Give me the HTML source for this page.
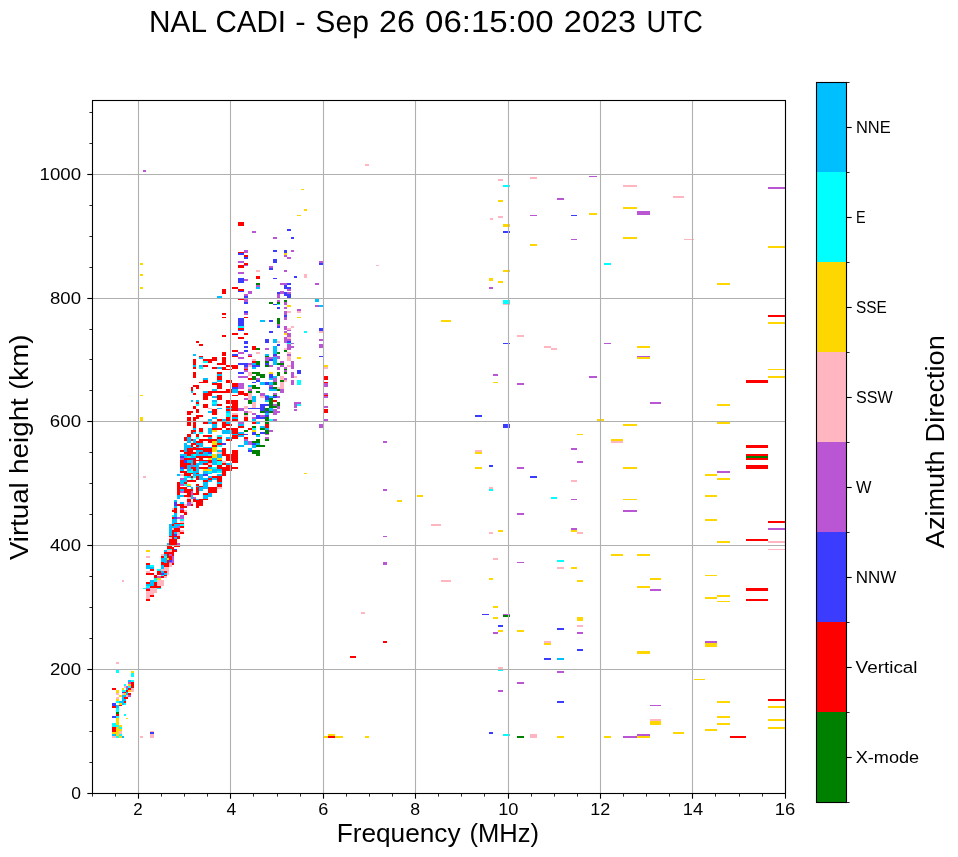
<!DOCTYPE html>
<html><head><meta charset="utf-8"><title>NAL CADI ionogram</title>
<style>html,body{margin:0;padding:0;background:#fff;}body{width:958px;height:857px;overflow:hidden;font-family:"Liberation Sans",sans-serif;}svg{display:block;}text{font-family:"Liberation Sans",sans-serif;fill:#000;}</style></head>
<body>
<svg width="958" height="857" viewBox="0 0 958 857">
<rect x="0" y="0" width="958" height="857" fill="#ffffff"/>
<g id="marks" shape-rendering="crispEdges">
<g fill="#ffb6c1"><rect x="365" y="164" width="4" height="2"/><rect x="498" y="179" width="5" height="2"/></g>
<g fill="#00ffff"><rect x="503" y="185" width="7" height="2"/></g>
<g fill="#ffd700"><rect x="498" y="200" width="5" height="2"/></g>
<g fill="#ffb6c1"><rect x="498" y="216" width="5" height="2"/><rect x="490" y="218" width="3" height="2"/></g>
<g fill="#ffd700"><rect x="503" y="224" width="7" height="3"/></g>
<g fill="#3c3cff"><rect x="503" y="231" width="7" height="2"/></g>
<g fill="#ffb6c1"><rect x="530" y="177" width="7" height="2"/></g>
<g fill="#ba55d3"><rect x="530" y="215" width="7" height="1"/><rect x="557" y="198" width="7" height="2"/></g>
<g fill="#3c3cff"><rect x="571" y="215" width="6" height="1"/></g>
<g fill="#ba55d3"><rect x="571" y="239" width="6" height="1"/><rect x="589" y="176" width="8" height="1"/></g>
<g fill="#ffd700"><rect x="589" y="213" width="8" height="2"/></g>
<g fill="#ffb6c1"><rect x="623" y="185" width="14" height="2"/></g>
<g fill="#ffd700"><rect x="623" y="207" width="14" height="2"/></g>
<g fill="#ba55d3"><rect x="637" y="211" width="13" height="4"/></g>
<g fill="#ffd700"><rect x="623" y="237" width="14" height="2"/></g>
<g fill="#ffb6c1"><rect x="673" y="196" width="11" height="2"/><rect x="684" y="239" width="10" height="1"/></g>
<g fill="#ba55d3"><rect x="768" y="187" width="17" height="2"/></g>
<g fill="#ffb6c1"><rect x="376" y="265" width="3" height="1"/></g>
<g fill="#ffd700"><rect x="441" y="320" width="10" height="2"/><rect x="530" y="244" width="7" height="2"/><rect x="503" y="270" width="7" height="2"/><rect x="489" y="278" width="4" height="3"/><rect x="498" y="281" width="5" height="2"/></g>
<g fill="#ba55d3"><rect x="489" y="287" width="4" height="2"/></g>
<g fill="#00ffff"><rect x="503" y="300" width="7" height="4"/></g>
<g fill="#ffb6c1"><rect x="503" y="304" width="7" height="1"/><rect x="517" y="335" width="7" height="2"/></g>
<g fill="#3c3cff"><rect x="503" y="343" width="7" height="1"/></g>
<g fill="#ffb6c1"><rect x="544" y="346" width="7" height="2"/><rect x="551" y="348" width="6" height="2"/></g>
<g fill="#ba55d3"><rect x="493" y="374" width="5" height="2"/></g>
<g fill="#ffd700"><rect x="493" y="382" width="5" height="1"/></g>
<g fill="#ba55d3"><rect x="517" y="383" width="7" height="2"/><rect x="589" y="376" width="8" height="2"/></g>
<g fill="#00ffff"><rect x="604" y="263" width="7" height="2"/></g>
<g fill="#ba55d3"><rect x="604" y="343" width="7" height="1"/></g>
<g fill="#ffd700"><rect x="768" y="246" width="17" height="2"/><rect x="717" y="283" width="13" height="2"/></g>
<g fill="#ff0000"><rect x="768" y="315" width="17" height="2"/></g>
<g fill="#ffd700"><rect x="768" y="322" width="17" height="2"/><rect x="637" y="346" width="13" height="2"/></g>
<g fill="#ba55d3"><rect x="637" y="356" width="13" height="1"/></g>
<g fill="#ffd700"><rect x="637" y="357" width="13" height="2"/><rect x="768" y="369" width="17" height="1"/><rect x="768" y="376" width="17" height="2"/></g>
<g fill="#ff0000"><rect x="746" y="380" width="22" height="3"/></g>
<g fill="#3c3cff"><rect x="475" y="415" width="7" height="2"/></g>
<g fill="#ba55d3"><rect x="383" y="441" width="4" height="2"/></g>
<g fill="#ffb6c1"><rect x="475" y="450" width="7" height="2"/></g>
<g fill="#ffd700"><rect x="475" y="452" width="7" height="2"/><rect x="475" y="467" width="7" height="2"/></g>
<g fill="#ba55d3"><rect x="383" y="489" width="4" height="2"/></g>
<g fill="#ffd700"><rect x="397" y="500" width="5" height="2"/><rect x="417" y="495" width="6" height="2"/></g>
<g fill="#ffb6c1"><rect x="431" y="524" width="10" height="2"/></g>
<g fill="#3c3cff"><rect x="503" y="424" width="7" height="4"/><rect x="489" y="465" width="4" height="2"/></g>
<g fill="#ffb6c1"><rect x="489" y="487" width="4" height="2"/></g>
<g fill="#00ffff"><rect x="489" y="489" width="4" height="2"/></g>
<g fill="#ba55d3"><rect x="517" y="467" width="7" height="2"/></g>
<g fill="#3c3cff"><rect x="530" y="476" width="7" height="2"/></g>
<g fill="#ba55d3"><rect x="517" y="513" width="7" height="2"/></g>
<g fill="#00ffff"><rect x="551" y="497" width="6" height="2"/></g>
<g fill="#ffd700"><rect x="577" y="434" width="6" height="1"/></g>
<g fill="#ba55d3"><rect x="571" y="448" width="6" height="2"/><rect x="577" y="461" width="6" height="2"/></g>
<g fill="#ffb6c1"><rect x="571" y="480" width="6" height="2"/></g>
<g fill="#ba55d3"><rect x="571" y="499" width="6" height="1"/><rect x="571" y="528" width="6" height="2"/></g>
<g fill="#ffd700"><rect x="597" y="419" width="7" height="2"/><rect x="623" y="424" width="14" height="2"/><rect x="611" y="439" width="12" height="2"/></g>
<g fill="#ffb6c1"><rect x="611" y="441" width="12" height="2"/></g>
<g fill="#ffd700"><rect x="623" y="467" width="14" height="2"/><rect x="623" y="499" width="14" height="1"/></g>
<g fill="#ba55d3"><rect x="623" y="510" width="14" height="2"/><rect x="650" y="402" width="11" height="2"/></g>
<g fill="#ffd700"><rect x="717" y="404" width="13" height="2"/><rect x="717" y="422" width="13" height="2"/></g>
<g fill="#ff0000"><rect x="746" y="445" width="22" height="3"/><rect x="746" y="454" width="22" height="6"/></g>
<g fill="#008000"><rect x="746" y="456" width="22" height="2"/></g>
<g fill="#ff0000"><rect x="746" y="465" width="22" height="4"/></g>
<g fill="#ba55d3"><rect x="717" y="471" width="13" height="2"/></g>
<g fill="#ffd700"><rect x="705" y="474" width="12" height="2"/><rect x="717" y="478" width="13" height="2"/><rect x="705" y="495" width="12" height="2"/><rect x="705" y="519" width="12" height="2"/></g>
<g fill="#ff0000"><rect x="768" y="521" width="17" height="2"/></g>
<g fill="#ba55d3"><rect x="768" y="528" width="17" height="2"/><rect x="383" y="536" width="4" height="1"/><rect x="383" y="562" width="4" height="3"/></g>
<g fill="#ffb6c1"><rect x="441" y="580" width="10" height="2"/><rect x="361" y="612" width="4" height="2"/></g>
<g fill="#ff0000"><rect x="383" y="641" width="4" height="2"/><rect x="350" y="656" width="6" height="2"/></g>
<g fill="#3c3cff"><rect x="482" y="614" width="7" height="1"/></g>
<g fill="#ffb6c1"><rect x="489" y="532" width="4" height="2"/></g>
<g fill="#ffd700"><rect x="498" y="530" width="5" height="2"/><rect x="571" y="530" width="6" height="2"/></g>
<g fill="#ffb6c1"><rect x="577" y="532" width="6" height="2"/><rect x="493" y="558" width="5" height="2"/></g>
<g fill="#ba55d3"><rect x="517" y="562" width="7" height="1"/></g>
<g fill="#00ffff"><rect x="557" y="560" width="7" height="2"/></g>
<g fill="#ffb6c1"><rect x="557" y="567" width="7" height="2"/></g>
<g fill="#ffd700"><rect x="571" y="567" width="6" height="2"/><rect x="489" y="578" width="4" height="2"/><rect x="577" y="580" width="6" height="2"/><rect x="611" y="554" width="12" height="2"/><rect x="493" y="606" width="5" height="2"/></g>
<g fill="#ba55d3"><rect x="503" y="614" width="7" height="1"/></g>
<g fill="#008000"><rect x="503" y="615" width="7" height="2"/></g>
<g fill="#ffd700"><rect x="493" y="617" width="5" height="2"/></g>
<g fill="#3c3cff"><rect x="498" y="625" width="5" height="2"/></g>
<g fill="#ffd700"><rect x="498" y="630" width="5" height="2"/></g>
<g fill="#ba55d3"><rect x="493" y="632" width="5" height="2"/></g>
<g fill="#ffd700"><rect x="517" y="630" width="7" height="2"/><rect x="577" y="617" width="6" height="4"/></g>
<g fill="#ffb6c1"><rect x="577" y="625" width="6" height="2"/></g>
<g fill="#ba55d3"><rect x="577" y="632" width="6" height="2"/></g>
<g fill="#3c3cff"><rect x="557" y="628" width="7" height="2"/></g>
<g fill="#ffb6c1"><rect x="544" y="641" width="7" height="2"/></g>
<g fill="#ffd700"><rect x="544" y="643" width="7" height="2"/></g>
<g fill="#3c3cff"><rect x="577" y="649" width="6" height="2"/><rect x="544" y="658" width="7" height="2"/></g>
<g fill="#00bfff"><rect x="557" y="658" width="7" height="2"/></g>
<g fill="#ffb6c1"><rect x="498" y="667" width="5" height="2"/></g>
<g fill="#00ffff"><rect x="498" y="669" width="5" height="2"/></g>
<g fill="#ffd700"><rect x="717" y="541" width="13" height="2"/></g>
<g fill="#ff0000"><rect x="746" y="539" width="22" height="2"/></g>
<g fill="#ffb6c1"><rect x="768" y="541" width="17" height="2"/><rect x="768" y="549" width="17" height="1"/></g>
<g fill="#ffd700"><rect x="637" y="554" width="13" height="2"/><rect x="650" y="578" width="11" height="2"/><rect x="637" y="586" width="13" height="2"/></g>
<g fill="#ba55d3"><rect x="650" y="589" width="11" height="2"/></g>
<g fill="#ffd700"><rect x="705" y="575" width="12" height="1"/><rect x="705" y="597" width="12" height="2"/><rect x="717" y="595" width="13" height="2"/><rect x="717" y="601" width="13" height="1"/></g>
<g fill="#ff0000"><rect x="746" y="588" width="22" height="3"/><rect x="746" y="599" width="22" height="2"/></g>
<g fill="#ba55d3"><rect x="705" y="641" width="12" height="2"/></g>
<g fill="#ffd700"><rect x="705" y="643" width="12" height="4"/><rect x="637" y="651" width="13" height="3"/><rect x="335" y="736" width="8" height="2"/><rect x="365" y="736" width="4" height="2"/></g>
<g fill="#ba55d3"><rect x="557" y="671" width="7" height="2"/><rect x="517" y="682" width="7" height="2"/><rect x="498" y="690" width="5" height="2"/></g>
<g fill="#3c3cff"><rect x="557" y="701" width="7" height="2"/><rect x="489" y="732" width="4" height="2"/></g>
<g fill="#00ffff"><rect x="503" y="734" width="7" height="2"/></g>
<g fill="#008000"><rect x="517" y="736" width="7" height="2"/></g>
<g fill="#ffb6c1"><rect x="530" y="734" width="7" height="4"/></g>
<g fill="#ffd700"><rect x="557" y="736" width="7" height="2"/><rect x="604" y="736" width="7" height="2"/></g>
<g fill="#ba55d3"><rect x="623" y="736" width="14" height="2"/><rect x="637" y="734" width="13" height="2"/></g>
<g fill="#ffd700"><rect x="637" y="736" width="13" height="2"/><rect x="694" y="679" width="11" height="1"/></g>
<g fill="#ba55d3"><rect x="650" y="705" width="11" height="1"/></g>
<g fill="#ffb6c1"><rect x="650" y="719" width="11" height="2"/></g>
<g fill="#ffd700"><rect x="650" y="721" width="11" height="4"/><rect x="673" y="732" width="11" height="2"/><rect x="717" y="701" width="13" height="2"/><rect x="717" y="716" width="13" height="2"/><rect x="717" y="723" width="13" height="2"/><rect x="705" y="729" width="12" height="2"/></g>
<g fill="#ff0000"><rect x="730" y="736" width="16" height="2"/><rect x="768" y="699" width="17" height="2"/></g>
<g fill="#ffd700"><rect x="768" y="706" width="17" height="2"/><rect x="768" y="719" width="17" height="2"/><rect x="768" y="727" width="17" height="2"/></g>
<g fill="#ba55d3"><rect x="143" y="170" width="3" height="2"/></g>
<g fill="#ff0000"><rect x="238" y="222" width="6" height="4"/></g>
<g fill="#ffd700"><rect x="301" y="189" width="3" height="1"/><rect x="304" y="209" width="3" height="2"/><rect x="297" y="215" width="4" height="1"/></g>
<g fill="#ba55d3"><rect x="252" y="231" width="4" height="2"/></g>
<g fill="#3c3cff"><rect x="287" y="229" width="4" height="2"/></g>
<g fill="#ba55d3"><rect x="273" y="237" width="4" height="2"/></g>
<g fill="#3c3cff"><rect x="291" y="237" width="3" height="2"/></g>
<g fill="#ba55d3"><rect x="244" y="250" width="4" height="3"/></g>
<g fill="#ff0000"><rect x="238" y="252" width="6" height="1"/></g>
<g fill="#3c3cff"><rect x="238" y="253" width="6" height="2"/></g>
<g fill="#ff0000"><rect x="244" y="255" width="4" height="2"/></g>
<g fill="#3c3cff"><rect x="273" y="250" width="4" height="2"/><rect x="284" y="250" width="3" height="3"/></g>
<g fill="#ffd700"><rect x="284" y="253" width="3" height="2"/></g>
<g fill="#ba55d3"><rect x="284" y="255" width="3" height="2"/><rect x="291" y="250" width="3" height="2"/></g>
<g fill="#ff0000"><rect x="232" y="287" width="6" height="2"/><rect x="232" y="333" width="6" height="2"/><rect x="232" y="350" width="6" height="2"/></g>
<g fill="#3c3cff"><rect x="232" y="354" width="6" height="2"/></g>
<g fill="#ff0000"><rect x="232" y="356" width="6" height="1"/></g>
<g fill="#ba55d3"><rect x="238" y="261" width="6" height="2"/></g>
<g fill="#ff0000"><rect x="238" y="265" width="6" height="3"/></g>
<g fill="#ba55d3"><rect x="238" y="272" width="6" height="2"/></g>
<g fill="#3c3cff"><rect x="238" y="278" width="6" height="5"/></g>
<g fill="#ff0000"><rect x="238" y="289" width="6" height="2"/></g>
<g fill="#3c3cff"><rect x="238" y="291" width="6" height="1"/></g>
<g fill="#ff0000"><rect x="238" y="298" width="6" height="2"/></g>
<g fill="#3c3cff"><rect x="238" y="318" width="6" height="8"/></g>
<g fill="#00ffff"><rect x="238" y="326" width="6" height="2"/></g>
<g fill="#ff0000"><rect x="238" y="328" width="6" height="2"/></g>
<g fill="#3c3cff"><rect x="238" y="330" width="6" height="1"/></g>
<g fill="#ff0000"><rect x="238" y="337" width="6" height="2"/></g>
<g fill="#ba55d3"><rect x="238" y="352" width="6" height="2"/></g>
<g fill="#3c3cff"><rect x="244" y="257" width="4" height="2"/></g>
<g fill="#ff0000"><rect x="244" y="263" width="4" height="2"/></g>
<g fill="#ba55d3"><rect x="244" y="265" width="4" height="1"/><rect x="244" y="279" width="4" height="2"/><rect x="244" y="294" width="4" height="2"/></g>
<g fill="#3c3cff"><rect x="244" y="296" width="4" height="2"/></g>
<g fill="#ba55d3"><rect x="244" y="298" width="4" height="4"/></g>
<g fill="#3c3cff"><rect x="244" y="302" width="4" height="2"/><rect x="244" y="311" width="4" height="2"/></g>
<g fill="#ba55d3"><rect x="244" y="313" width="4" height="2"/></g>
<g fill="#ff0000"><rect x="244" y="317" width="4" height="1"/><rect x="244" y="333" width="4" height="2"/></g>
<g fill="#3c3cff"><rect x="244" y="341" width="4" height="3"/><rect x="244" y="346" width="4" height="2"/><rect x="244" y="350" width="4" height="2"/></g>
<g fill="#ba55d3"><rect x="248" y="291" width="4" height="3"/><rect x="248" y="354" width="4" height="2"/></g>
<g fill="#ff0000"><rect x="248" y="356" width="4" height="1"/><rect x="252" y="346" width="4" height="4"/></g>
<g fill="#ffb6c1"><rect x="256" y="270" width="4" height="2"/></g>
<g fill="#ff0000"><rect x="256" y="276" width="4" height="3"/></g>
<g fill="#008000"><rect x="256" y="283" width="4" height="2"/></g>
<g fill="#ba55d3"><rect x="256" y="285" width="4" height="2"/></g>
<g fill="#00bfff"><rect x="256" y="287" width="4" height="2"/></g>
<g fill="#008000"><rect x="256" y="348" width="4" height="2"/></g>
<g fill="#ffb6c1"><rect x="256" y="352" width="4" height="2"/></g>
<g fill="#00bfff"><rect x="260" y="320" width="5" height="2"/></g>
<g fill="#3c3cff"><rect x="265" y="339" width="4" height="4"/></g>
<g fill="#ba55d3"><rect x="265" y="348" width="4" height="2"/></g>
<g fill="#00bfff"><rect x="265" y="354" width="4" height="2"/></g>
<g fill="#008000"><rect x="265" y="356" width="4" height="1"/></g>
<g fill="#ba55d3"><rect x="269" y="266" width="4" height="2"/></g>
<g fill="#3c3cff"><rect x="269" y="268" width="4" height="2"/></g>
<g fill="#008000"><rect x="269" y="302" width="4" height="2"/></g>
<g fill="#3c3cff"><rect x="269" y="320" width="4" height="2"/><rect x="269" y="331" width="4" height="2"/><rect x="273" y="259" width="4" height="4"/><rect x="273" y="278" width="4" height="1"/><rect x="273" y="304" width="4" height="1"/></g>
<g fill="#00bfff"><rect x="273" y="339" width="4" height="4"/><rect x="273" y="346" width="4" height="8"/></g>
<g fill="#3c3cff"><rect x="273" y="354" width="4" height="2"/></g>
<g fill="#ba55d3"><rect x="273" y="356" width="4" height="1"/></g>
<g fill="#3c3cff"><rect x="277" y="292" width="3" height="2"/></g>
<g fill="#ba55d3"><rect x="277" y="294" width="3" height="4"/><rect x="277" y="300" width="3" height="2"/></g>
<g fill="#008000"><rect x="277" y="302" width="3" height="2"/></g>
<g fill="#00ffff"><rect x="277" y="304" width="3" height="1"/></g>
<g fill="#3c3cff"><rect x="277" y="307" width="3" height="2"/></g>
<g fill="#008000"><rect x="277" y="318" width="3" height="6"/></g>
<g fill="#ba55d3"><rect x="277" y="324" width="3" height="2"/></g>
<g fill="#3c3cff"><rect x="277" y="326" width="3" height="2"/></g>
<g fill="#ffb6c1"><rect x="277" y="341" width="3" height="2"/></g>
<g fill="#3c3cff"><rect x="277" y="344" width="3" height="2"/></g>
<g fill="#008000"><rect x="277" y="352" width="3" height="2"/></g>
<g fill="#ba55d3"><rect x="280" y="283" width="4" height="2"/><rect x="280" y="291" width="4" height="3"/><rect x="284" y="270" width="3" height="2"/><rect x="284" y="283" width="3" height="2"/></g>
<g fill="#3c3cff"><rect x="284" y="285" width="3" height="4"/><rect x="284" y="292" width="3" height="4"/></g>
<g fill="#008000"><rect x="284" y="300" width="3" height="2"/></g>
<g fill="#ba55d3"><rect x="284" y="302" width="3" height="3"/><rect x="284" y="307" width="3" height="2"/><rect x="284" y="311" width="3" height="4"/></g>
<g fill="#3c3cff"><rect x="284" y="315" width="3" height="2"/></g>
<g fill="#ba55d3"><rect x="284" y="317" width="3" height="3"/><rect x="284" y="326" width="3" height="4"/><rect x="284" y="331" width="3" height="2"/></g>
<g fill="#ffd700"><rect x="284" y="333" width="3" height="2"/></g>
<g fill="#ba55d3"><rect x="284" y="337" width="3" height="6"/></g>
<g fill="#ffb6c1"><rect x="284" y="348" width="3" height="2"/></g>
<g fill="#008000"><rect x="284" y="350" width="3" height="2"/></g>
<g fill="#ba55d3"><rect x="287" y="257" width="4" height="2"/></g>
<g fill="#3c3cff"><rect x="287" y="283" width="4" height="2"/><rect x="287" y="287" width="4" height="2"/></g>
<g fill="#ba55d3"><rect x="287" y="289" width="4" height="2"/><rect x="287" y="292" width="4" height="2"/></g>
<g fill="#3c3cff"><rect x="287" y="294" width="4" height="4"/></g>
<g fill="#ffd700"><rect x="287" y="305" width="4" height="2"/></g>
<g fill="#ffb6c1"><rect x="287" y="311" width="4" height="2"/><rect x="287" y="328" width="4" height="2"/></g>
<g fill="#ba55d3"><rect x="287" y="330" width="4" height="1"/><rect x="287" y="333" width="4" height="4"/></g>
<g fill="#ffb6c1"><rect x="287" y="337" width="4" height="2"/></g>
<g fill="#ba55d3"><rect x="287" y="339" width="4" height="2"/></g>
<g fill="#3c3cff"><rect x="287" y="341" width="4" height="2"/></g>
<g fill="#00ffff"><rect x="287" y="343" width="4" height="1"/></g>
<g fill="#ba55d3"><rect x="287" y="344" width="4" height="6"/></g>
<g fill="#ffb6c1"><rect x="287" y="352" width="4" height="2"/></g>
<g fill="#ba55d3"><rect x="287" y="354" width="4" height="2"/></g>
<g fill="#ffb6c1"><rect x="291" y="326" width="3" height="2"/></g>
<g fill="#ba55d3"><rect x="291" y="343" width="3" height="1"/><rect x="291" y="346" width="3" height="2"/></g>
<g fill="#3c3cff"><rect x="294" y="276" width="3" height="2"/></g>
<g fill="#ba55d3"><rect x="297" y="309" width="4" height="2"/></g>
<g fill="#ffb6c1"><rect x="297" y="311" width="4" height="2"/></g>
<g fill="#ffd700"><rect x="297" y="317" width="4" height="1"/></g>
<g fill="#ffb6c1"><rect x="304" y="274" width="3" height="4"/></g>
<g fill="#00ffff"><rect x="304" y="331" width="3" height="2"/></g>
<g fill="#ba55d3"><rect x="315" y="283" width="4" height="2"/></g>
<g fill="#00bfff"><rect x="315" y="298" width="4" height="4"/></g>
<g fill="#ba55d3"><rect x="315" y="305" width="4" height="2"/><rect x="319" y="261" width="4" height="2"/></g>
<g fill="#3c3cff"><rect x="319" y="263" width="4" height="2"/></g>
<g fill="#00bfff"><rect x="319" y="305" width="4" height="2"/></g>
<g fill="#3c3cff"><rect x="319" y="328" width="4" height="3"/></g>
<g fill="#ffb6c1"><rect x="319" y="331" width="4" height="2"/></g>
<g fill="#ba55d3"><rect x="319" y="339" width="4" height="2"/><rect x="319" y="344" width="4" height="4"/></g>
<g fill="#3c3cff"><rect x="319" y="356" width="4" height="1"/></g>
<g fill="#ff0000"><rect x="232" y="365" width="6" height="4"/><rect x="232" y="383" width="6" height="4"/></g>
<g fill="#3c3cff"><rect x="232" y="387" width="6" height="2"/></g>
<g fill="#00bfff"><rect x="232" y="389" width="6" height="4"/></g>
<g fill="#ff0000"><rect x="232" y="395" width="6" height="1"/></g>
<g fill="#ffb6c1"><rect x="232" y="413" width="6" height="2"/></g>
<g fill="#ff0000"><rect x="232" y="415" width="6" height="2"/></g>
<g fill="#00bfff"><rect x="232" y="417" width="6" height="2"/></g>
<g fill="#ff0000"><rect x="232" y="419" width="6" height="2"/></g>
<g fill="#ba55d3"><rect x="238" y="357" width="6" height="2"/></g>
<g fill="#3c3cff"><rect x="238" y="363" width="6" height="2"/><rect x="238" y="372" width="6" height="2"/></g>
<g fill="#ba55d3"><rect x="238" y="376" width="6" height="2"/><rect x="238" y="383" width="6" height="6"/></g>
<g fill="#ff0000"><rect x="238" y="391" width="6" height="4"/></g>
<g fill="#ba55d3"><rect x="238" y="408" width="6" height="3"/></g>
<g fill="#3c3cff"><rect x="244" y="363" width="4" height="4"/></g>
<g fill="#ba55d3"><rect x="244" y="367" width="4" height="2"/></g>
<g fill="#ff0000"><rect x="244" y="369" width="4" height="1"/></g>
<g fill="#ba55d3"><rect x="244" y="370" width="4" height="2"/></g>
<g fill="#ff0000"><rect x="244" y="393" width="4" height="3"/></g>
<g fill="#ba55d3"><rect x="244" y="398" width="4" height="2"/></g>
<g fill="#ffb6c1"><rect x="244" y="406" width="4" height="3"/></g>
<g fill="#ba55d3"><rect x="244" y="411" width="4" height="2"/></g>
<g fill="#008000"><rect x="244" y="413" width="4" height="2"/></g>
<g fill="#ffb6c1"><rect x="244" y="415" width="4" height="2"/></g>
<g fill="#ff0000"><rect x="244" y="417" width="4" height="4"/></g>
<g fill="#ba55d3"><rect x="248" y="363" width="4" height="2"/></g>
<g fill="#ffb6c1"><rect x="248" y="365" width="4" height="2"/><rect x="248" y="372" width="4" height="4"/></g>
<g fill="#ff0000"><rect x="248" y="378" width="4" height="2"/></g>
<g fill="#00bfff"><rect x="248" y="385" width="4" height="2"/></g>
<g fill="#ffb6c1"><rect x="248" y="387" width="4" height="2"/></g>
<g fill="#ba55d3"><rect x="248" y="389" width="4" height="2"/></g>
<g fill="#008000"><rect x="248" y="391" width="4" height="2"/></g>
<g fill="#ffb6c1"><rect x="248" y="393" width="4" height="7"/></g>
<g fill="#008000"><rect x="248" y="400" width="4" height="4"/></g>
<g fill="#3c3cff"><rect x="248" y="408" width="4" height="1"/></g>
<g fill="#ffb6c1"><rect x="248" y="411" width="4" height="2"/><rect x="252" y="359" width="4" height="2"/></g>
<g fill="#ff0000"><rect x="252" y="361" width="4" height="2"/></g>
<g fill="#00bfff"><rect x="252" y="363" width="4" height="2"/></g>
<g fill="#3c3cff"><rect x="252" y="365" width="4" height="2"/></g>
<g fill="#00bfff"><rect x="252" y="367" width="4" height="2"/></g>
<g fill="#008000"><rect x="252" y="372" width="4" height="2"/><rect x="252" y="376" width="4" height="4"/></g>
<g fill="#3c3cff"><rect x="252" y="382" width="4" height="1"/></g>
<g fill="#008000"><rect x="252" y="385" width="4" height="4"/></g>
<g fill="#00bfff"><rect x="252" y="396" width="4" height="6"/></g>
<g fill="#ffb6c1"><rect x="252" y="402" width="4" height="6"/></g>
<g fill="#3c3cff"><rect x="252" y="408" width="4" height="1"/></g>
<g fill="#ba55d3"><rect x="252" y="413" width="4" height="2"/><rect x="252" y="417" width="4" height="2"/></g>
<g fill="#00bfff"><rect x="252" y="419" width="4" height="2"/></g>
<g fill="#008000"><rect x="256" y="361" width="4" height="4"/></g>
<g fill="#3c3cff"><rect x="256" y="365" width="4" height="2"/></g>
<g fill="#008000"><rect x="256" y="372" width="4" height="4"/></g>
<g fill="#ba55d3"><rect x="256" y="378" width="4" height="2"/></g>
<g fill="#3c3cff"><rect x="256" y="380" width="4" height="2"/></g>
<g fill="#008000"><rect x="256" y="387" width="4" height="2"/><rect x="256" y="391" width="4" height="2"/></g>
<g fill="#3c3cff"><rect x="256" y="408" width="4" height="1"/><rect x="256" y="415" width="4" height="4"/></g>
<g fill="#008000"><rect x="260" y="374" width="5" height="4"/></g>
<g fill="#00bfff"><rect x="260" y="382" width="5" height="3"/></g>
<g fill="#ba55d3"><rect x="260" y="393" width="5" height="3"/></g>
<g fill="#ffb6c1"><rect x="260" y="396" width="5" height="2"/></g>
<g fill="#3c3cff"><rect x="260" y="404" width="5" height="7"/></g>
<g fill="#008000"><rect x="260" y="411" width="5" height="2"/></g>
<g fill="#ba55d3"><rect x="260" y="415" width="5" height="2"/></g>
<g fill="#3c3cff"><rect x="260" y="417" width="5" height="2"/></g>
<g fill="#ba55d3"><rect x="265" y="357" width="4" height="4"/></g>
<g fill="#008000"><rect x="265" y="361" width="4" height="2"/></g>
<g fill="#3c3cff"><rect x="265" y="363" width="4" height="2"/></g>
<g fill="#008000"><rect x="265" y="365" width="4" height="2"/></g>
<g fill="#3c3cff"><rect x="265" y="382" width="4" height="3"/></g>
<g fill="#00bfff"><rect x="265" y="395" width="4" height="1"/></g>
<g fill="#3c3cff"><rect x="265" y="396" width="4" height="4"/></g>
<g fill="#00bfff"><rect x="265" y="400" width="4" height="2"/></g>
<g fill="#3c3cff"><rect x="265" y="404" width="4" height="2"/></g>
<g fill="#008000"><rect x="265" y="408" width="4" height="3"/></g>
<g fill="#3c3cff"><rect x="265" y="411" width="4" height="2"/></g>
<g fill="#00bfff"><rect x="265" y="413" width="4" height="2"/></g>
<g fill="#3c3cff"><rect x="265" y="415" width="4" height="2"/></g>
<g fill="#008000"><rect x="265" y="417" width="4" height="4"/></g>
<g fill="#ba55d3"><rect x="269" y="357" width="4" height="2"/></g>
<g fill="#3c3cff"><rect x="269" y="359" width="4" height="2"/></g>
<g fill="#ba55d3"><rect x="269" y="365" width="4" height="2"/></g>
<g fill="#ffd700"><rect x="269" y="372" width="4" height="2"/></g>
<g fill="#3c3cff"><rect x="269" y="374" width="4" height="4"/></g>
<g fill="#00bfff"><rect x="269" y="378" width="4" height="2"/><rect x="269" y="382" width="4" height="3"/></g>
<g fill="#ba55d3"><rect x="269" y="385" width="4" height="2"/></g>
<g fill="#3c3cff"><rect x="269" y="387" width="4" height="2"/></g>
<g fill="#00bfff"><rect x="269" y="389" width="4" height="2"/><rect x="269" y="396" width="4" height="2"/></g>
<g fill="#008000"><rect x="269" y="398" width="4" height="10"/></g>
<g fill="#00bfff"><rect x="269" y="408" width="4" height="3"/></g>
<g fill="#008000"><rect x="269" y="411" width="4" height="2"/></g>
<g fill="#00ffff"><rect x="269" y="419" width="4" height="2"/></g>
<g fill="#00bfff"><rect x="273" y="350" width="4" height="4"/><rect x="273" y="357" width="4" height="8"/><rect x="273" y="376" width="4" height="2"/></g>
<g fill="#ba55d3"><rect x="273" y="378" width="4" height="4"/></g>
<g fill="#008000"><rect x="273" y="382" width="4" height="3"/><rect x="273" y="387" width="4" height="2"/></g>
<g fill="#00bfff"><rect x="273" y="389" width="4" height="2"/></g>
<g fill="#ba55d3"><rect x="273" y="393" width="4" height="2"/></g>
<g fill="#008000"><rect x="273" y="395" width="4" height="1"/></g>
<g fill="#3c3cff"><rect x="273" y="396" width="4" height="2"/></g>
<g fill="#ff0000"><rect x="273" y="400" width="4" height="2"/></g>
<g fill="#ba55d3"><rect x="273" y="404" width="4" height="2"/></g>
<g fill="#008000"><rect x="273" y="406" width="4" height="2"/></g>
<g fill="#ba55d3"><rect x="273" y="409" width="4" height="6"/><rect x="273" y="419" width="4" height="2"/><rect x="277" y="356" width="3" height="3"/></g>
<g fill="#008000"><rect x="277" y="363" width="3" height="2"/></g>
<g fill="#ba55d3"><rect x="277" y="367" width="3" height="3"/></g>
<g fill="#008000"><rect x="277" y="372" width="3" height="4"/></g>
<g fill="#ffb6c1"><rect x="277" y="387" width="3" height="2"/></g>
<g fill="#008000"><rect x="277" y="389" width="3" height="2"/></g>
<g fill="#ba55d3"><rect x="277" y="396" width="3" height="2"/></g>
<g fill="#008000"><rect x="277" y="402" width="3" height="4"/></g>
<g fill="#ba55d3"><rect x="277" y="406" width="3" height="3"/><rect x="277" y="411" width="3" height="2"/><rect x="280" y="361" width="4" height="2"/></g>
<g fill="#008000"><rect x="280" y="363" width="4" height="2"/></g>
<g fill="#ba55d3"><rect x="280" y="365" width="4" height="2"/></g>
<g fill="#ffb6c1"><rect x="280" y="376" width="4" height="4"/></g>
<g fill="#008000"><rect x="280" y="380" width="4" height="2"/></g>
<g fill="#ffb6c1"><rect x="280" y="382" width="4" height="7"/></g>
<g fill="#ba55d3"><rect x="280" y="389" width="4" height="4"/><rect x="284" y="367" width="3" height="2"/></g>
<g fill="#008000"><rect x="284" y="369" width="3" height="1"/></g>
<g fill="#ba55d3"><rect x="284" y="370" width="3" height="2"/></g>
<g fill="#008000"><rect x="284" y="372" width="3" height="2"/></g>
<g fill="#ba55d3"><rect x="284" y="378" width="3" height="2"/></g>
<g fill="#ffb6c1"><rect x="284" y="380" width="3" height="2"/><rect x="287" y="356" width="4" height="5"/><rect x="287" y="365" width="4" height="2"/></g>
<g fill="#ba55d3"><rect x="291" y="361" width="3" height="8"/><rect x="291" y="372" width="3" height="6"/><rect x="291" y="380" width="3" height="5"/></g>
<g fill="#ffb6c1"><rect x="294" y="376" width="3" height="2"/></g>
<g fill="#ba55d3"><rect x="294" y="402" width="3" height="6"/><rect x="294" y="409" width="3" height="2"/></g>
<g fill="#ffd700"><rect x="297" y="357" width="4" height="2"/></g>
<g fill="#3c3cff"><rect x="297" y="370" width="4" height="4"/></g>
<g fill="#00ffff"><rect x="297" y="380" width="4" height="5"/></g>
<g fill="#ba55d3"><rect x="297" y="402" width="4" height="2"/></g>
<g fill="#00ffff"><rect x="297" y="404" width="4" height="2"/></g>
<g fill="#ff0000"><rect x="232" y="428" width="6" height="6"/></g>
<g fill="#00bfff"><rect x="232" y="434" width="6" height="1"/></g>
<g fill="#ff0000"><rect x="232" y="435" width="6" height="2"/></g>
<g fill="#ba55d3"><rect x="238" y="422" width="6" height="2"/></g>
<g fill="#00bfff"><rect x="238" y="424" width="6" height="2"/></g>
<g fill="#ff0000"><rect x="238" y="426" width="6" height="2"/></g>
<g fill="#00bfff"><rect x="238" y="432" width="6" height="2"/></g>
<g fill="#ff0000"><rect x="238" y="434" width="6" height="1"/></g>
<g fill="#00bfff"><rect x="238" y="435" width="6" height="2"/><rect x="238" y="445" width="6" height="2"/></g>
<g fill="#008000"><rect x="244" y="430" width="4" height="2"/></g>
<g fill="#3c3cff"><rect x="244" y="434" width="4" height="1"/></g>
<g fill="#ff0000"><rect x="244" y="437" width="4" height="2"/></g>
<g fill="#ba55d3"><rect x="244" y="439" width="4" height="2"/></g>
<g fill="#00bfff"><rect x="244" y="441" width="4" height="4"/></g>
<g fill="#ff0000"><rect x="248" y="428" width="4" height="2"/></g>
<g fill="#ba55d3"><rect x="248" y="441" width="4" height="4"/></g>
<g fill="#00bfff"><rect x="248" y="448" width="4" height="2"/></g>
<g fill="#3c3cff"><rect x="248" y="450" width="4" height="2"/></g>
<g fill="#ff0000"><rect x="252" y="422" width="4" height="2"/></g>
<g fill="#008000"><rect x="252" y="426" width="4" height="2"/></g>
<g fill="#00ffff"><rect x="252" y="428" width="4" height="2"/></g>
<g fill="#ffd700"><rect x="252" y="430" width="4" height="2"/></g>
<g fill="#3c3cff"><rect x="252" y="432" width="4" height="3"/></g>
<g fill="#008000"><rect x="252" y="441" width="4" height="2"/></g>
<g fill="#3c3cff"><rect x="252" y="443" width="4" height="2"/></g>
<g fill="#00bfff"><rect x="252" y="445" width="4" height="3"/></g>
<g fill="#008000"><rect x="252" y="450" width="4" height="4"/></g>
<g fill="#00bfff"><rect x="256" y="422" width="4" height="2"/></g>
<g fill="#008000"><rect x="256" y="434" width="4" height="1"/></g>
<g fill="#00bfff"><rect x="256" y="435" width="4" height="2"/></g>
<g fill="#008000"><rect x="256" y="439" width="4" height="4"/></g>
<g fill="#00bfff"><rect x="256" y="443" width="4" height="2"/></g>
<g fill="#008000"><rect x="256" y="445" width="4" height="2"/><rect x="256" y="450" width="4" height="6"/></g>
<g fill="#00bfff"><rect x="260" y="426" width="5" height="2"/></g>
<g fill="#008000"><rect x="260" y="428" width="5" height="2"/></g>
<g fill="#3c3cff"><rect x="260" y="432" width="5" height="2"/></g>
<g fill="#008000"><rect x="260" y="445" width="5" height="2"/><rect x="265" y="422" width="4" height="2"/></g>
<g fill="#ff0000"><rect x="265" y="424" width="4" height="4"/></g>
<g fill="#00bfff"><rect x="265" y="428" width="4" height="2"/></g>
<g fill="#008000"><rect x="265" y="430" width="4" height="4"/></g>
<g fill="#ba55d3"><rect x="265" y="434" width="4" height="1"/><rect x="265" y="437" width="4" height="2"/></g>
<g fill="#008000"><rect x="265" y="439" width="4" height="2"/></g>
<g fill="#ba55d3"><rect x="269" y="430" width="4" height="2"/></g>
<g fill="#ffd700"><rect x="304" y="473" width="3" height="1"/></g>
<g fill="#ff0000"><rect x="191" y="387" width="2" height="4"/></g>
<g fill="#00bfff"><rect x="191" y="391" width="2" height="2"/><rect x="191" y="400" width="2" height="2"/><rect x="193" y="354" width="3" height="2"/></g>
<g fill="#ff0000"><rect x="193" y="359" width="3" height="6"/></g>
<g fill="#00bfff"><rect x="193" y="365" width="3" height="2"/></g>
<g fill="#ff0000"><rect x="193" y="367" width="3" height="2"/><rect x="193" y="372" width="3" height="6"/><rect x="193" y="385" width="3" height="2"/><rect x="193" y="393" width="3" height="2"/><rect x="196" y="341" width="3" height="2"/><rect x="196" y="385" width="3" height="4"/></g>
<g fill="#00bfff"><rect x="196" y="400" width="3" height="2"/></g>
<g fill="#ff0000"><rect x="199" y="344" width="4" height="2"/><rect x="199" y="356" width="4" height="1"/></g>
<g fill="#00bfff"><rect x="199" y="357" width="4" height="2"/><rect x="199" y="365" width="4" height="2"/></g>
<g fill="#00ffff"><rect x="199" y="367" width="4" height="2"/></g>
<g fill="#ff0000"><rect x="199" y="382" width="4" height="1"/><rect x="203" y="359" width="5" height="2"/></g>
<g fill="#00ffff"><rect x="203" y="361" width="5" height="2"/></g>
<g fill="#ff0000"><rect x="203" y="365" width="5" height="2"/></g>
<g fill="#00bfff"><rect x="203" y="378" width="5" height="2"/></g>
<g fill="#ff0000"><rect x="203" y="380" width="5" height="3"/></g>
<g fill="#00bfff"><rect x="203" y="391" width="5" height="2"/></g>
<g fill="#ff0000"><rect x="203" y="393" width="5" height="7"/><rect x="208" y="359" width="4" height="4"/><rect x="208" y="391" width="4" height="5"/><rect x="212" y="357" width="5" height="4"/><rect x="212" y="367" width="5" height="2"/></g>
<g fill="#00bfff"><rect x="212" y="382" width="5" height="1"/></g>
<g fill="#ff0000"><rect x="212" y="383" width="5" height="2"/></g>
<g fill="#00bfff"><rect x="212" y="389" width="5" height="2"/></g>
<g fill="#ff0000"><rect x="212" y="391" width="5" height="2"/></g>
<g fill="#00bfff"><rect x="212" y="396" width="5" height="2"/><rect x="212" y="400" width="5" height="2"/></g>
<g fill="#ff0000"><rect x="217" y="363" width="5" height="2"/></g>
<g fill="#00bfff"><rect x="217" y="367" width="5" height="2"/></g>
<g fill="#ff0000"><rect x="217" y="372" width="5" height="2"/></g>
<g fill="#00bfff"><rect x="217" y="374" width="5" height="2"/></g>
<g fill="#ff0000"><rect x="217" y="376" width="5" height="4"/></g>
<g fill="#00bfff"><rect x="217" y="380" width="5" height="2"/></g>
<g fill="#ff0000"><rect x="217" y="383" width="5" height="6"/><rect x="217" y="391" width="5" height="2"/><rect x="217" y="395" width="5" height="5"/><rect x="222" y="335" width="4" height="2"/><rect x="222" y="352" width="4" height="4"/><rect x="222" y="357" width="4" height="8"/><rect x="222" y="367" width="4" height="3"/><rect x="222" y="391" width="4" height="2"/><rect x="226" y="365" width="6" height="2"/><rect x="226" y="369" width="6" height="1"/><rect x="226" y="380" width="6" height="3"/><rect x="226" y="389" width="6" height="4"/></g>
<g fill="#ba55d3"><rect x="244" y="376" width="4" height="2"/></g>
<g fill="#ff0000"><rect x="203" y="395" width="5" height="5"/><rect x="196" y="402" width="3" height="2"/></g>
<g fill="#00ffff"><rect x="212" y="402" width="5" height="2"/><rect x="196" y="404" width="3" height="2"/></g>
<g fill="#ff0000"><rect x="203" y="404" width="5" height="4"/></g>
<g fill="#00bfff"><rect x="212" y="404" width="5" height="2"/></g>
<g fill="#ff0000"><rect x="217" y="404" width="5" height="2"/><rect x="193" y="406" width="3" height="3"/></g>
<g fill="#ffb6c1"><rect x="208" y="408" width="4" height="1"/></g>
<g fill="#00bfff"><rect x="217" y="408" width="5" height="1"/></g>
<g fill="#ff0000"><rect x="196" y="409" width="3" height="4"/><rect x="212" y="409" width="5" height="6"/><rect x="187" y="411" width="6" height="2"/></g>
<g fill="#00bfff"><rect x="208" y="411" width="4" height="2"/><rect x="226" y="411" width="4" height="2"/></g>
<g fill="#ff0000"><rect x="187" y="413" width="4" height="2"/></g>
<g fill="#00ffff"><rect x="226" y="413" width="4" height="4"/></g>
<g fill="#ff0000"><rect x="196" y="415" width="7" height="2"/><rect x="187" y="417" width="4" height="4"/><rect x="193" y="417" width="3" height="4"/><rect x="196" y="417" width="3" height="2"/></g>
<g fill="#00bfff"><rect x="212" y="417" width="5" height="2"/></g>
<g fill="#ff0000"><rect x="226" y="417" width="4" height="4"/></g>
<g fill="#00bfff"><rect x="208" y="419" width="4" height="2"/></g>
<g fill="#ff0000"><rect x="217" y="419" width="5" height="2"/></g>
<g fill="#00bfff"><rect x="222" y="419" width="4" height="2"/></g>
<g fill="#ff0000"><rect x="187" y="422" width="4" height="4"/><rect x="193" y="422" width="3" height="6"/><rect x="203" y="422" width="5" height="2"/></g>
<g fill="#00bfff"><rect x="208" y="422" width="4" height="2"/></g>
<g fill="#ff0000"><rect x="212" y="422" width="5" height="2"/></g>
<g fill="#00bfff"><rect x="212" y="424" width="5" height="4"/></g>
<g fill="#ff0000"><rect x="222" y="422" width="4" height="6"/></g>
<g fill="#00bfff"><rect x="226" y="422" width="4" height="2"/></g>
<g fill="#ff0000"><rect x="226" y="424" width="6" height="2"/></g>
<g fill="#00bfff"><rect x="193" y="428" width="3" height="2"/></g>
<g fill="#ff0000"><rect x="199" y="428" width="4" height="4"/></g>
<g fill="#00bfff"><rect x="208" y="428" width="4" height="6"/></g>
<g fill="#ff0000"><rect x="212" y="428" width="10" height="2"/><rect x="226" y="428" width="6" height="2"/><rect x="191" y="430" width="5" height="2"/></g>
<g fill="#ffd700"><rect x="212" y="430" width="5" height="2"/></g>
<g fill="#00bfff"><rect x="222" y="430" width="10" height="4"/></g>
<g fill="#ff0000"><rect x="191" y="432" width="2" height="2"/></g>
<g fill="#00bfff"><rect x="193" y="432" width="3" height="2"/></g>
<g fill="#00ffff"><rect x="199" y="432" width="4" height="2"/></g>
<g fill="#ff0000"><rect x="187" y="434" width="4" height="3"/><rect x="196" y="434" width="3" height="3"/><rect x="203" y="435" width="9" height="2"/></g>
<g fill="#00ffff"><rect x="217" y="435" width="5" height="2"/></g>
<g fill="#ffb6c1"><rect x="164" y="571" width="5" height="4"/></g>
<g fill="#ff0000"><rect x="157" y="571" width="4" height="4"/></g>
<g fill="#00bfff"><rect x="161" y="571" width="3" height="2"/></g>
<g fill="#ff0000"><rect x="164" y="571" width="3" height="2"/></g>
<g fill="#3c3cff"><rect x="161" y="573" width="3" height="2"/></g>
<g fill="#00bfff"><rect x="164" y="573" width="3" height="2"/></g>
<g fill="#00ffff"><rect x="161" y="575" width="3" height="1"/></g>
<g fill="#ff0000"><rect x="164" y="575" width="3" height="1"/><rect x="154" y="575" width="3" height="3"/></g>
<g fill="#ba55d3"><rect x="157" y="576" width="4" height="2"/></g>
<g fill="#ff0000"><rect x="161" y="576" width="3" height="2"/></g>
<g fill="#ffb6c1"><rect x="164" y="576" width="3" height="2"/></g>
<g fill="#00ffff"><rect x="154" y="578" width="3" height="4"/></g>
<g fill="#ffd700"><rect x="157" y="578" width="4" height="2"/></g>
<g fill="#ffb6c1"><rect x="157" y="580" width="7" height="6"/></g>
<g fill="#00bfff"><rect x="150" y="580" width="4" height="6"/></g>
<g fill="#ff0000"><rect x="146" y="582" width="4" height="2"/></g>
<g fill="#00bfff"><rect x="146" y="584" width="4" height="2"/></g>
<g fill="#00ffff"><rect x="146" y="586" width="4" height="2"/></g>
<g fill="#ff0000"><rect x="154" y="582" width="3" height="7"/><rect x="150" y="586" width="11" height="2"/></g>
<g fill="#00ffff"><rect x="143" y="588" width="3" height="1"/></g>
<g fill="#ba55d3"><rect x="146" y="588" width="4" height="1"/></g>
<g fill="#00ffff"><rect x="157" y="588" width="4" height="1"/></g>
<g fill="#ff0000"><rect x="146" y="589" width="4" height="2"/></g>
<g fill="#ffb6c1"><rect x="150" y="588" width="7" height="5"/><rect x="146" y="591" width="8" height="6"/></g>
<g fill="#ff0000"><rect x="150" y="595" width="4" height="2"/></g>
<g fill="#ffd700"><rect x="146" y="550" width="4" height="2"/></g>
<g fill="#ffb6c1"><rect x="146" y="556" width="4" height="2"/></g>
<g fill="#ff0000"><rect x="146" y="563" width="4" height="2"/></g>
<g fill="#00bfff"><rect x="146" y="565" width="4" height="4"/></g>
<g fill="#00ffff"><rect x="150" y="565" width="4" height="2"/></g>
<g fill="#00bfff"><rect x="150" y="567" width="4" height="2"/></g>
<g fill="#ff0000"><rect x="150" y="569" width="4" height="2"/></g>
<g fill="#ffb6c1"><rect x="146" y="571" width="4" height="2"/></g>
<g fill="#ff0000"><rect x="146" y="573" width="8" height="2"/></g>
<g fill="#ffb6c1"><rect x="150" y="589" width="7" height="4"/><rect x="146" y="591" width="8" height="4"/><rect x="146" y="595" width="4" height="4"/></g>
<g fill="#ff0000"><rect x="146" y="599" width="4" height="2"/></g>
<g fill="#ffb6c1"><rect x="116" y="662" width="3" height="2"/></g>
<g fill="#00ffff"><rect x="116" y="669" width="3" height="4"/></g>
<g fill="#ffd700"><rect x="131" y="671" width="3" height="2"/></g>
<g fill="#00ffff"><rect x="131" y="673" width="3" height="4"/></g>
<g fill="#00bfff"><rect x="128" y="680" width="3" height="2"/></g>
<g fill="#00ffff"><rect x="131" y="680" width="3" height="2"/></g>
<g fill="#ba55d3"><rect x="128" y="682" width="3" height="2"/></g>
<g fill="#ff0000"><rect x="131" y="682" width="3" height="6"/></g>
<g fill="#00ffff"><rect x="124" y="684" width="2" height="2"/></g>
<g fill="#ffd700"><rect x="128" y="684" width="3" height="2"/></g>
<g fill="#ffb6c1"><rect x="124" y="686" width="2" height="2"/></g>
<g fill="#ba55d3"><rect x="126" y="686" width="2" height="2"/></g>
<g fill="#00ffff"><rect x="128" y="686" width="3" height="2"/></g>
<g fill="#ff0000"><rect x="112" y="688" width="4" height="2"/></g>
<g fill="#ffd700"><rect x="122" y="688" width="2" height="2"/></g>
<g fill="#00bfff"><rect x="126" y="688" width="2" height="2"/></g>
<g fill="#ff0000"><rect x="128" y="688" width="3" height="2"/></g>
<g fill="#ffb6c1"><rect x="131" y="688" width="3" height="4"/></g>
<g fill="#ffd700"><rect x="116" y="690" width="3" height="3"/></g>
<g fill="#00ffff"><rect x="122" y="690" width="4" height="2"/></g>
<g fill="#ff0000"><rect x="126" y="690" width="2" height="2"/></g>
<g fill="#ffd700"><rect x="128" y="690" width="3" height="2"/></g>
<g fill="#3c3cff"><rect x="122" y="692" width="2" height="1"/></g>
<g fill="#ff0000"><rect x="124" y="692" width="2" height="1"/></g>
<g fill="#00bfff"><rect x="126" y="692" width="2" height="3"/></g>
<g fill="#ff0000"><rect x="128" y="693" width="3" height="2"/></g>
<g fill="#ffb6c1"><rect x="116" y="693" width="3" height="2"/><rect x="122" y="693" width="2" height="2"/></g>
<g fill="#ffd700"><rect x="124" y="693" width="2" height="2"/><rect x="119" y="695" width="3" height="2"/></g>
<g fill="#00bfff"><rect x="122" y="695" width="4" height="2"/></g>
<g fill="#ffb6c1"><rect x="126" y="695" width="2" height="2"/></g>
<g fill="#ba55d3"><rect x="128" y="695" width="3" height="2"/></g>
<g fill="#ffb6c1"><rect x="116" y="697" width="3" height="2"/></g>
<g fill="#00bfff"><rect x="122" y="697" width="2" height="8"/></g>
<g fill="#ff0000"><rect x="124" y="697" width="4" height="2"/></g>
<g fill="#ffd700"><rect x="116" y="699" width="3" height="2"/></g>
<g fill="#00bfff"><rect x="124" y="699" width="2" height="2"/></g>
<g fill="#00ffff"><rect x="116" y="701" width="3" height="2"/></g>
<g fill="#00bfff"><rect x="119" y="701" width="3" height="2"/></g>
<g fill="#ff0000"><rect x="124" y="701" width="2" height="2"/></g>
<g fill="#3c3cff"><rect x="112" y="703" width="4" height="3"/></g>
<g fill="#ffd700"><rect x="119" y="703" width="3" height="2"/></g>
<g fill="#00ffff"><rect x="124" y="703" width="2" height="2"/></g>
<g fill="#ff0000"><rect x="112" y="706" width="4" height="2"/></g>
<g fill="#00bfff"><rect x="116" y="705" width="3" height="3"/></g>
<g fill="#ff0000"><rect x="119" y="705" width="3" height="1"/></g>
<g fill="#00ffff"><rect x="116" y="708" width="3" height="4"/></g>
<g fill="#008000"><rect x="116" y="712" width="3" height="2"/></g>
<g fill="#ff0000"><rect x="116" y="714" width="3" height="2"/></g>
<g fill="#3c3cff"><rect x="112" y="716" width="4" height="2"/></g>
<g fill="#00ffff"><rect x="116" y="716" width="3" height="2"/><rect x="124" y="714" width="2" height="2"/></g>
<g fill="#ffd700"><rect x="126" y="718" width="2" height="1"/><rect x="116" y="718" width="3" height="7"/></g>
<g fill="#00ffff"><rect x="112" y="723" width="4" height="4"/><rect x="116" y="725" width="3" height="2"/></g>
<g fill="#ffd700"><rect x="119" y="725" width="3" height="2"/></g>
<g fill="#ff0000"><rect x="112" y="727" width="4" height="5"/></g>
<g fill="#ffd700"><rect x="116" y="727" width="3" height="9"/></g>
<g fill="#00ffff"><rect x="119" y="727" width="3" height="2"/></g>
<g fill="#ffd700"><rect x="119" y="729" width="3" height="2"/></g>
<g fill="#ffb6c1"><rect x="119" y="731" width="3" height="3"/></g>
<g fill="#ffd700"><rect x="112" y="732" width="4" height="2"/></g>
<g fill="#00bfff"><rect x="112" y="734" width="4" height="2"/></g>
<g fill="#00ffff"><rect x="119" y="734" width="3" height="2"/></g>
<g fill="#ffb6c1"><rect x="112" y="736" width="4" height="2"/></g>
<g fill="#00ffff"><rect x="116" y="736" width="3" height="2"/></g>
<g fill="#ffd700"><rect x="119" y="736" width="3" height="2"/></g>
<g fill="#00bfff"><rect x="122" y="736" width="2" height="2"/></g>
<g fill="#ffb6c1"><rect x="140" y="736" width="3" height="2"/><rect x="150" y="731" width="4" height="1"/></g>
<g fill="#3c3cff"><rect x="150" y="732" width="4" height="2"/></g>
<g fill="#ffb6c1"><rect x="150" y="734" width="4" height="4"/></g>
<g fill="#ff0000"><rect x="222" y="289" width="4" height="5"/></g>
<g fill="#00bfff"><rect x="217" y="296" width="5" height="2"/></g>
<g fill="#ff0000"><rect x="222" y="313" width="4" height="2"/><rect x="222" y="317" width="4" height="1"/></g>
<g fill="#ffd700"><rect x="140" y="263" width="3" height="2"/><rect x="140" y="274" width="3" height="2"/><rect x="140" y="287" width="3" height="2"/><rect x="140" y="395" width="3" height="1"/><rect x="140" y="417" width="3" height="4"/></g>
<g fill="#ffb6c1"><rect x="143" y="476" width="3" height="2"/></g>
<g fill="#ffd700"><rect x="324" y="736" width="4" height="2"/><rect x="328" y="734" width="7" height="2"/></g>
<g fill="#ff0000"><rect x="328" y="736" width="7" height="2"/></g>
<g fill="#ffd700"><rect x="335" y="736" width="5" height="2"/><rect x="324" y="365" width="4" height="2"/></g>
<g fill="#ffb6c1"><rect x="324" y="367" width="4" height="2"/></g>
<g fill="#ff0000"><rect x="324" y="376" width="4" height="4"/><rect x="324" y="382" width="4" height="1"/></g>
<g fill="#ba55d3"><rect x="324" y="383" width="4" height="4"/><rect x="324" y="393" width="4" height="2"/></g>
<g fill="#ff0000"><rect x="324" y="395" width="4" height="1"/></g>
<g fill="#ba55d3"><rect x="324" y="396" width="4" height="2"/><rect x="324" y="406" width="4" height="2"/></g>
<g fill="#ff0000"><rect x="324" y="409" width="4" height="4"/></g>
<g fill="#ba55d3"><rect x="324" y="419" width="4" height="2"/><rect x="319" y="424" width="4" height="4"/></g>
<g fill="#ffb6c1"><rect x="122" y="580" width="2" height="2"/></g>
<g fill="#ff0000"><rect x="184" y="437" width="3" height="2"/></g>
<g fill="#00bfff"><rect x="187" y="437" width="4" height="2"/></g>
<g fill="#00ffff"><rect x="196" y="437" width="3" height="2"/></g>
<g fill="#00bfff"><rect x="208" y="437" width="4" height="2"/></g>
<g fill="#ff0000"><rect x="217" y="437" width="5" height="2"/></g>
<g fill="#00bfff"><rect x="226" y="437" width="6" height="2"/></g>
<g fill="#ff0000"><rect x="232" y="437" width="6" height="2"/><rect x="184" y="439" width="3" height="2"/></g>
<g fill="#00bfff"><rect x="187" y="439" width="4" height="2"/></g>
<g fill="#ff0000"><rect x="191" y="439" width="2" height="2"/></g>
<g fill="#00bfff"><rect x="193" y="439" width="3" height="2"/></g>
<g fill="#ff0000"><rect x="199" y="439" width="4" height="2"/><rect x="203" y="439" width="5" height="2"/><rect x="208" y="439" width="4" height="2"/><rect x="212" y="439" width="5" height="2"/></g>
<g fill="#00bfff"><rect x="217" y="439" width="5" height="2"/></g>
<g fill="#ff0000"><rect x="226" y="439" width="6" height="2"/></g>
<g fill="#00bfff"><rect x="187" y="441" width="4" height="2"/><rect x="193" y="441" width="3" height="2"/></g>
<g fill="#ff0000"><rect x="196" y="441" width="3" height="2"/><rect x="199" y="441" width="4" height="2"/><rect x="208" y="441" width="4" height="2"/></g>
<g fill="#ffd700"><rect x="212" y="441" width="5" height="2"/></g>
<g fill="#00bfff"><rect x="217" y="441" width="5" height="2"/><rect x="184" y="443" width="3" height="2"/></g>
<g fill="#ff0000"><rect x="191" y="443" width="2" height="2"/><rect x="193" y="443" width="3" height="2"/></g>
<g fill="#00bfff"><rect x="196" y="443" width="3" height="2"/><rect x="199" y="443" width="4" height="2"/></g>
<g fill="#ffd700"><rect x="212" y="443" width="5" height="2"/></g>
<g fill="#ff0000"><rect x="217" y="443" width="5" height="2"/></g>
<g fill="#3c3cff"><rect x="222" y="443" width="4" height="2"/></g>
<g fill="#00bfff"><rect x="184" y="445" width="3" height="2"/><rect x="187" y="445" width="4" height="2"/></g>
<g fill="#ff0000"><rect x="191" y="445" width="2" height="2"/><rect x="196" y="445" width="3" height="2"/></g>
<g fill="#00bfff"><rect x="199" y="445" width="4" height="2"/></g>
<g fill="#ff0000"><rect x="212" y="445" width="5" height="2"/></g>
<g fill="#00ffff"><rect x="217" y="445" width="5" height="2"/></g>
<g fill="#00bfff"><rect x="184" y="447" width="3" height="1"/><rect x="187" y="447" width="4" height="1"/><rect x="191" y="447" width="2" height="1"/></g>
<g fill="#ff0000"><rect x="193" y="447" width="3" height="1"/></g>
<g fill="#00bfff"><rect x="196" y="447" width="3" height="1"/></g>
<g fill="#ffb6c1"><rect x="199" y="447" width="4" height="1"/></g>
<g fill="#00bfff"><rect x="203" y="447" width="5" height="1"/><rect x="208" y="447" width="4" height="1"/></g>
<g fill="#ffd700"><rect x="212" y="447" width="5" height="1"/></g>
<g fill="#00bfff"><rect x="184" y="448" width="3" height="2"/></g>
<g fill="#ff0000"><rect x="187" y="448" width="4" height="2"/><rect x="191" y="448" width="2" height="2"/><rect x="193" y="448" width="3" height="2"/><rect x="196" y="448" width="3" height="2"/><rect x="199" y="448" width="4" height="2"/><rect x="203" y="448" width="5" height="2"/><rect x="208" y="448" width="4" height="2"/></g>
<g fill="#ffd700"><rect x="212" y="448" width="5" height="2"/></g>
<g fill="#ff0000"><rect x="222" y="448" width="4" height="2"/><rect x="180" y="450" width="4" height="2"/></g>
<g fill="#00bfff"><rect x="184" y="450" width="3" height="2"/></g>
<g fill="#ff0000"><rect x="187" y="450" width="4" height="2"/><rect x="191" y="450" width="2" height="2"/></g>
<g fill="#00bfff"><rect x="196" y="450" width="3" height="2"/><rect x="199" y="450" width="4" height="2"/></g>
<g fill="#ff0000"><rect x="203" y="450" width="5" height="2"/><rect x="208" y="450" width="4" height="2"/></g>
<g fill="#ffd700"><rect x="212" y="450" width="5" height="2"/></g>
<g fill="#00bfff"><rect x="217" y="450" width="5" height="2"/></g>
<g fill="#ff0000"><rect x="222" y="450" width="4" height="2"/><rect x="232" y="450" width="6" height="2"/><rect x="184" y="452" width="3" height="2"/><rect x="187" y="452" width="4" height="2"/><rect x="191" y="452" width="2" height="2"/><rect x="193" y="452" width="3" height="2"/></g>
<g fill="#00bfff"><rect x="196" y="452" width="3" height="2"/></g>
<g fill="#ff0000"><rect x="199" y="452" width="4" height="2"/></g>
<g fill="#00bfff"><rect x="203" y="452" width="5" height="2"/></g>
<g fill="#3c3cff"><rect x="208" y="452" width="4" height="2"/></g>
<g fill="#ffb6c1"><rect x="217" y="452" width="5" height="2"/></g>
<g fill="#ff0000"><rect x="222" y="452" width="4" height="2"/><rect x="232" y="452" width="6" height="2"/></g>
<g fill="#00bfff"><rect x="180" y="454" width="4" height="2"/><rect x="184" y="454" width="3" height="2"/></g>
<g fill="#ff0000"><rect x="187" y="454" width="4" height="2"/></g>
<g fill="#00bfff"><rect x="191" y="454" width="2" height="2"/></g>
<g fill="#00ffff"><rect x="193" y="454" width="3" height="2"/></g>
<g fill="#00bfff"><rect x="196" y="454" width="3" height="2"/><rect x="199" y="454" width="4" height="2"/><rect x="203" y="454" width="5" height="2"/></g>
<g fill="#00ffff"><rect x="208" y="454" width="4" height="2"/></g>
<g fill="#ffd700"><rect x="212" y="454" width="5" height="2"/></g>
<g fill="#00bfff"><rect x="217" y="454" width="5" height="2"/></g>
<g fill="#ff0000"><rect x="222" y="454" width="4" height="2"/><rect x="226" y="454" width="6" height="2"/><rect x="232" y="454" width="6" height="2"/></g>
<g fill="#3c3cff"><rect x="180" y="456" width="4" height="2"/></g>
<g fill="#00bfff"><rect x="184" y="456" width="3" height="2"/></g>
<g fill="#00ffff"><rect x="187" y="456" width="4" height="2"/></g>
<g fill="#00bfff"><rect x="191" y="456" width="2" height="2"/><rect x="193" y="456" width="3" height="2"/></g>
<g fill="#ff0000"><rect x="196" y="456" width="3" height="2"/><rect x="199" y="456" width="4" height="2"/><rect x="203" y="456" width="5" height="2"/><rect x="208" y="456" width="4" height="2"/></g>
<g fill="#ffd700"><rect x="212" y="456" width="5" height="2"/></g>
<g fill="#00bfff"><rect x="217" y="456" width="5" height="2"/></g>
<g fill="#ff0000"><rect x="226" y="456" width="6" height="2"/><rect x="232" y="456" width="6" height="2"/></g>
<g fill="#ba55d3"><rect x="180" y="458" width="4" height="2"/></g>
<g fill="#ff0000"><rect x="184" y="458" width="3" height="2"/><rect x="187" y="458" width="4" height="2"/></g>
<g fill="#3c3cff"><rect x="191" y="458" width="2" height="2"/></g>
<g fill="#ff0000"><rect x="193" y="458" width="3" height="2"/><rect x="199" y="458" width="4" height="2"/></g>
<g fill="#ffd700"><rect x="208" y="458" width="4" height="2"/></g>
<g fill="#00bfff"><rect x="212" y="458" width="5" height="2"/></g>
<g fill="#ffd700"><rect x="217" y="458" width="5" height="2"/></g>
<g fill="#ff0000"><rect x="226" y="458" width="6" height="2"/><rect x="232" y="458" width="6" height="2"/><rect x="180" y="460" width="4" height="1"/></g>
<g fill="#3c3cff"><rect x="184" y="460" width="3" height="1"/></g>
<g fill="#00bfff"><rect x="187" y="460" width="4" height="1"/><rect x="191" y="460" width="2" height="1"/></g>
<g fill="#ff0000"><rect x="193" y="460" width="3" height="1"/><rect x="196" y="460" width="3" height="1"/><rect x="199" y="460" width="4" height="1"/><rect x="203" y="460" width="5" height="1"/><rect x="208" y="460" width="4" height="1"/></g>
<g fill="#00bfff"><rect x="212" y="460" width="5" height="1"/></g>
<g fill="#ff0000"><rect x="217" y="460" width="5" height="1"/><rect x="226" y="460" width="6" height="1"/><rect x="232" y="460" width="6" height="1"/><rect x="180" y="461" width="4" height="2"/></g>
<g fill="#3c3cff"><rect x="184" y="461" width="3" height="2"/></g>
<g fill="#00bfff"><rect x="187" y="461" width="4" height="2"/><rect x="191" y="461" width="2" height="2"/></g>
<g fill="#ff0000"><rect x="193" y="461" width="3" height="2"/></g>
<g fill="#00bfff"><rect x="199" y="461" width="4" height="2"/><rect x="203" y="461" width="5" height="2"/></g>
<g fill="#ff0000"><rect x="208" y="461" width="4" height="2"/></g>
<g fill="#00bfff"><rect x="212" y="461" width="5" height="2"/></g>
<g fill="#00ffff"><rect x="217" y="461" width="5" height="2"/></g>
<g fill="#ffb6c1"><rect x="222" y="461" width="4" height="2"/></g>
<g fill="#ff0000"><rect x="232" y="461" width="6" height="2"/><rect x="180" y="463" width="4" height="2"/><rect x="184" y="463" width="3" height="2"/><rect x="187" y="463" width="4" height="2"/></g>
<g fill="#00bfff"><rect x="191" y="463" width="2" height="2"/></g>
<g fill="#ff0000"><rect x="193" y="463" width="3" height="2"/></g>
<g fill="#00bfff"><rect x="196" y="463" width="3" height="2"/><rect x="199" y="463" width="4" height="2"/></g>
<g fill="#ff0000"><rect x="203" y="463" width="5" height="2"/></g>
<g fill="#ffb6c1"><rect x="208" y="463" width="4" height="2"/></g>
<g fill="#00bfff"><rect x="212" y="463" width="5" height="2"/></g>
<g fill="#00ffff"><rect x="217" y="463" width="5" height="2"/></g>
<g fill="#ff0000"><rect x="222" y="463" width="4" height="2"/></g>
<g fill="#00bfff"><rect x="226" y="463" width="6" height="2"/></g>
<g fill="#ff0000"><rect x="180" y="465" width="4" height="2"/><rect x="184" y="465" width="3" height="2"/></g>
<g fill="#00bfff"><rect x="187" y="465" width="4" height="2"/></g>
<g fill="#ba55d3"><rect x="191" y="465" width="2" height="2"/></g>
<g fill="#00bfff"><rect x="193" y="465" width="3" height="2"/><rect x="196" y="465" width="3" height="2"/></g>
<g fill="#ff0000"><rect x="208" y="465" width="4" height="2"/><rect x="217" y="465" width="5" height="2"/><rect x="226" y="465" width="6" height="2"/></g>
<g fill="#3c3cff"><rect x="180" y="467" width="4" height="2"/></g>
<g fill="#ff0000"><rect x="184" y="467" width="3" height="2"/></g>
<g fill="#00bfff"><rect x="187" y="467" width="4" height="2"/></g>
<g fill="#ff0000"><rect x="191" y="467" width="2" height="2"/><rect x="193" y="467" width="3" height="2"/></g>
<g fill="#00bfff"><rect x="196" y="467" width="3" height="2"/></g>
<g fill="#ff0000"><rect x="199" y="467" width="4" height="2"/><rect x="203" y="467" width="5" height="2"/></g>
<g fill="#00bfff"><rect x="208" y="467" width="4" height="2"/></g>
<g fill="#00ffff"><rect x="212" y="467" width="5" height="2"/></g>
<g fill="#ff0000"><rect x="217" y="467" width="5" height="2"/><rect x="222" y="467" width="4" height="2"/><rect x="226" y="467" width="6" height="2"/><rect x="232" y="467" width="6" height="2"/></g>
<g fill="#00bfff"><rect x="180" y="469" width="4" height="2"/><rect x="187" y="469" width="4" height="2"/></g>
<g fill="#00ffff"><rect x="191" y="469" width="2" height="2"/></g>
<g fill="#ff0000"><rect x="193" y="469" width="3" height="2"/></g>
<g fill="#00bfff"><rect x="196" y="469" width="3" height="2"/></g>
<g fill="#ffd700"><rect x="203" y="469" width="5" height="2"/><rect x="208" y="469" width="4" height="2"/></g>
<g fill="#00bfff"><rect x="212" y="469" width="5" height="2"/><rect x="217" y="469" width="5" height="2"/></g>
<g fill="#ff0000"><rect x="222" y="469" width="4" height="2"/><rect x="226" y="469" width="6" height="2"/><rect x="180" y="471" width="4" height="2"/><rect x="184" y="471" width="3" height="2"/></g>
<g fill="#00ffff"><rect x="187" y="471" width="4" height="2"/><rect x="191" y="471" width="2" height="2"/></g>
<g fill="#00bfff"><rect x="193" y="471" width="3" height="2"/><rect x="196" y="471" width="3" height="2"/><rect x="203" y="471" width="5" height="2"/></g>
<g fill="#00ffff"><rect x="208" y="471" width="4" height="2"/></g>
<g fill="#00bfff"><rect x="212" y="471" width="5" height="2"/></g>
<g fill="#00ffff"><rect x="217" y="471" width="5" height="2"/></g>
<g fill="#ff0000"><rect x="222" y="471" width="4" height="2"/><rect x="184" y="473" width="3" height="1"/><rect x="187" y="473" width="4" height="1"/><rect x="191" y="473" width="2" height="1"/></g>
<g fill="#00bfff"><rect x="193" y="473" width="3" height="1"/></g>
<g fill="#ff0000"><rect x="196" y="473" width="3" height="1"/></g>
<g fill="#00bfff"><rect x="203" y="473" width="5" height="1"/><rect x="208" y="473" width="4" height="1"/></g>
<g fill="#ff0000"><rect x="222" y="473" width="4" height="1"/></g>
<g fill="#00bfff"><rect x="177" y="474" width="3" height="2"/></g>
<g fill="#ffb6c1"><rect x="180" y="474" width="4" height="2"/></g>
<g fill="#ff0000"><rect x="184" y="474" width="3" height="2"/><rect x="187" y="474" width="4" height="2"/></g>
<g fill="#00bfff"><rect x="193" y="474" width="3" height="2"/><rect x="196" y="474" width="3" height="2"/><rect x="199" y="474" width="4" height="2"/></g>
<g fill="#3c3cff"><rect x="203" y="474" width="5" height="2"/></g>
<g fill="#00bfff"><rect x="217" y="474" width="5" height="2"/></g>
<g fill="#ff0000"><rect x="222" y="474" width="4" height="2"/></g>
<g fill="#00ffff"><rect x="184" y="476" width="3" height="2"/></g>
<g fill="#00bfff"><rect x="187" y="476" width="4" height="2"/></g>
<g fill="#ff0000"><rect x="191" y="476" width="2" height="2"/></g>
<g fill="#00ffff"><rect x="193" y="476" width="3" height="2"/></g>
<g fill="#ff0000"><rect x="196" y="476" width="3" height="2"/></g>
<g fill="#00bfff"><rect x="199" y="476" width="4" height="2"/><rect x="208" y="476" width="4" height="2"/></g>
<g fill="#ff0000"><rect x="212" y="476" width="5" height="2"/><rect x="217" y="476" width="5" height="2"/></g>
<g fill="#ba55d3"><rect x="180" y="478" width="4" height="2"/></g>
<g fill="#00bfff"><rect x="184" y="478" width="3" height="2"/></g>
<g fill="#00ffff"><rect x="191" y="478" width="2" height="2"/></g>
<g fill="#ff0000"><rect x="196" y="478" width="3" height="2"/></g>
<g fill="#00bfff"><rect x="199" y="478" width="4" height="2"/><rect x="203" y="478" width="5" height="2"/></g>
<g fill="#ff0000"><rect x="208" y="478" width="4" height="2"/></g>
<g fill="#00bfff"><rect x="212" y="478" width="5" height="2"/></g>
<g fill="#ff0000"><rect x="217" y="478" width="5" height="2"/></g>
<g fill="#00bfff"><rect x="180" y="480" width="4" height="2"/><rect x="184" y="480" width="3" height="2"/></g>
<g fill="#ff0000"><rect x="187" y="480" width="4" height="2"/><rect x="191" y="480" width="2" height="2"/><rect x="193" y="480" width="3" height="2"/><rect x="203" y="480" width="5" height="2"/></g>
<g fill="#00bfff"><rect x="208" y="480" width="4" height="2"/></g>
<g fill="#ff0000"><rect x="217" y="480" width="5" height="2"/><rect x="177" y="482" width="3" height="2"/></g>
<g fill="#00bfff"><rect x="180" y="482" width="4" height="2"/></g>
<g fill="#ff0000"><rect x="184" y="482" width="3" height="2"/></g>
<g fill="#00bfff"><rect x="203" y="482" width="5" height="2"/><rect x="217" y="482" width="5" height="2"/></g>
<g fill="#ff0000"><rect x="177" y="484" width="3" height="2"/></g>
<g fill="#ba55d3"><rect x="180" y="484" width="4" height="2"/></g>
<g fill="#00ffff"><rect x="184" y="484" width="3" height="2"/></g>
<g fill="#ffd700"><rect x="187" y="484" width="4" height="2"/></g>
<g fill="#ff0000"><rect x="196" y="484" width="3" height="2"/></g>
<g fill="#00bfff"><rect x="203" y="484" width="5" height="2"/></g>
<g fill="#ff0000"><rect x="217" y="484" width="5" height="2"/><rect x="177" y="486" width="3" height="1"/></g>
<g fill="#00bfff"><rect x="187" y="486" width="4" height="1"/><rect x="196" y="486" width="3" height="1"/></g>
<g fill="#ff0000"><rect x="199" y="486" width="4" height="1"/></g>
<g fill="#00bfff"><rect x="203" y="486" width="5" height="1"/></g>
<g fill="#ff0000"><rect x="217" y="486" width="5" height="1"/><rect x="177" y="487" width="3" height="2"/><rect x="180" y="487" width="4" height="2"/><rect x="184" y="487" width="3" height="2"/></g>
<g fill="#00bfff"><rect x="191" y="487" width="2" height="2"/></g>
<g fill="#ff0000"><rect x="196" y="487" width="3" height="2"/></g>
<g fill="#00bfff"><rect x="199" y="487" width="4" height="2"/><rect x="203" y="487" width="5" height="2"/></g>
<g fill="#ff0000"><rect x="208" y="487" width="4" height="2"/><rect x="212" y="487" width="5" height="2"/></g>
<g fill="#ffb6c1"><rect x="217" y="487" width="5" height="2"/></g>
<g fill="#ff0000"><rect x="177" y="489" width="3" height="2"/></g>
<g fill="#00bfff"><rect x="180" y="489" width="4" height="2"/></g>
<g fill="#ff0000"><rect x="184" y="489" width="3" height="2"/><rect x="187" y="489" width="4" height="2"/><rect x="191" y="489" width="2" height="2"/><rect x="226" y="400" width="6" height="2"/><rect x="232" y="400" width="6" height="2"/><rect x="226" y="402" width="6" height="2"/><rect x="232" y="402" width="6" height="2"/><rect x="232" y="404" width="6" height="2"/><rect x="226" y="406" width="6" height="2"/><rect x="232" y="406" width="6" height="2"/></g>
<g fill="#00bfff"><rect x="226" y="408" width="6" height="1"/></g>
<g fill="#ff0000"><rect x="232" y="408" width="6" height="1"/><rect x="226" y="409" width="6" height="2"/><rect x="232" y="409" width="6" height="2"/><rect x="177" y="491" width="3" height="2"/></g>
<g fill="#ba55d3"><rect x="180" y="491" width="4" height="2"/></g>
<g fill="#ff0000"><rect x="184" y="491" width="3" height="2"/><rect x="187" y="491" width="4" height="2"/></g>
<g fill="#ba55d3"><rect x="191" y="491" width="2" height="2"/></g>
<g fill="#ff0000"><rect x="177" y="493" width="3" height="2"/><rect x="187" y="493" width="4" height="2"/></g>
<g fill="#ba55d3"><rect x="191" y="493" width="2" height="2"/></g>
<g fill="#ff0000"><rect x="193" y="493" width="3" height="2"/></g>
<g fill="#00bfff"><rect x="177" y="495" width="3" height="2"/><rect x="180" y="495" width="4" height="2"/></g>
<g fill="#ff0000"><rect x="184" y="495" width="3" height="2"/><rect x="187" y="495" width="4" height="2"/></g>
<g fill="#00bfff"><rect x="191" y="495" width="2" height="2"/><rect x="177" y="497" width="3" height="2"/></g>
<g fill="#ffb6c1"><rect x="187" y="497" width="4" height="2"/></g>
<g fill="#00bfff"><rect x="191" y="497" width="2" height="2"/></g>
<g fill="#ba55d3"><rect x="193" y="497" width="3" height="2"/></g>
<g fill="#ff0000"><rect x="187" y="499" width="4" height="1"/><rect x="193" y="499" width="3" height="1"/></g>
<g fill="#00bfff"><rect x="174" y="500" width="3" height="2"/></g>
<g fill="#ff0000"><rect x="187" y="500" width="4" height="2"/><rect x="193" y="500" width="3" height="2"/></g>
<g fill="#3c3cff"><rect x="174" y="502" width="3" height="2"/></g>
<g fill="#00bfff"><rect x="180" y="502" width="4" height="2"/></g>
<g fill="#ba55d3"><rect x="187" y="502" width="4" height="2"/></g>
<g fill="#ffb6c1"><rect x="191" y="502" width="2" height="2"/></g>
<g fill="#3c3cff"><rect x="174" y="504" width="3" height="2"/></g>
<g fill="#ff0000"><rect x="177" y="504" width="3" height="2"/><rect x="180" y="504" width="4" height="2"/></g>
<g fill="#ffb6c1"><rect x="184" y="504" width="3" height="2"/></g>
<g fill="#ba55d3"><rect x="187" y="504" width="4" height="2"/></g>
<g fill="#ff0000"><rect x="191" y="504" width="2" height="2"/></g>
<g fill="#00bfff"><rect x="174" y="506" width="3" height="2"/></g>
<g fill="#ff0000"><rect x="180" y="506" width="4" height="2"/><rect x="184" y="506" width="3" height="2"/></g>
<g fill="#ffb6c1"><rect x="172" y="508" width="2" height="2"/></g>
<g fill="#ff0000"><rect x="174" y="508" width="3" height="2"/></g>
<g fill="#ba55d3"><rect x="180" y="508" width="4" height="2"/></g>
<g fill="#ff0000"><rect x="172" y="510" width="2" height="2"/><rect x="174" y="510" width="3" height="2"/><rect x="180" y="510" width="4" height="2"/></g>
<g fill="#ffb6c1"><rect x="184" y="510" width="3" height="2"/></g>
<g fill="#ff0000"><rect x="174" y="512" width="3" height="1"/><rect x="180" y="512" width="4" height="1"/><rect x="184" y="512" width="3" height="1"/></g>
<g fill="#00bfff"><rect x="174" y="513" width="3" height="2"/></g>
<g fill="#ff0000"><rect x="184" y="513" width="3" height="2"/></g>
<g fill="#00ffff"><rect x="172" y="515" width="2" height="2"/></g>
<g fill="#00bfff"><rect x="174" y="515" width="3" height="2"/></g>
<g fill="#ba55d3"><rect x="180" y="515" width="4" height="2"/></g>
<g fill="#ff0000"><rect x="172" y="517" width="2" height="2"/></g>
<g fill="#3c3cff"><rect x="174" y="517" width="3" height="2"/></g>
<g fill="#ba55d3"><rect x="177" y="517" width="3" height="2"/><rect x="180" y="517" width="4" height="2"/></g>
<g fill="#00bfff"><rect x="172" y="519" width="2" height="2"/><rect x="174" y="519" width="3" height="2"/></g>
<g fill="#00ffff"><rect x="180" y="519" width="4" height="2"/></g>
<g fill="#00bfff"><rect x="172" y="521" width="2" height="2"/><rect x="174" y="521" width="3" height="2"/></g>
<g fill="#ffb6c1"><rect x="180" y="521" width="4" height="2"/></g>
<g fill="#00bfff"><rect x="172" y="523" width="2" height="1"/></g>
<g fill="#ff0000"><rect x="174" y="523" width="3" height="1"/><rect x="177" y="523" width="3" height="1"/><rect x="180" y="523" width="4" height="1"/></g>
<g fill="#00bfff"><rect x="169" y="524" width="3" height="2"/></g>
<g fill="#ff0000"><rect x="172" y="524" width="2" height="2"/></g>
<g fill="#00bfff"><rect x="174" y="524" width="3" height="2"/><rect x="177" y="524" width="3" height="2"/></g>
<g fill="#00ffff"><rect x="180" y="524" width="4" height="2"/></g>
<g fill="#00bfff"><rect x="169" y="526" width="3" height="2"/><rect x="172" y="526" width="2" height="2"/><rect x="174" y="526" width="3" height="2"/></g>
<g fill="#ba55d3"><rect x="177" y="526" width="3" height="2"/></g>
<g fill="#ff0000"><rect x="180" y="526" width="4" height="2"/></g>
<g fill="#00bfff"><rect x="169" y="528" width="3" height="2"/></g>
<g fill="#ffb6c1"><rect x="172" y="528" width="2" height="2"/></g>
<g fill="#ff0000"><rect x="174" y="528" width="3" height="2"/><rect x="177" y="528" width="3" height="2"/></g>
<g fill="#00bfff"><rect x="169" y="530" width="3" height="2"/></g>
<g fill="#ff0000"><rect x="172" y="530" width="2" height="2"/><rect x="174" y="530" width="3" height="2"/><rect x="177" y="530" width="3" height="2"/></g>
<g fill="#ffb6c1"><rect x="180" y="530" width="4" height="2"/></g>
<g fill="#00bfff"><rect x="169" y="532" width="3" height="2"/></g>
<g fill="#ff0000"><rect x="172" y="532" width="2" height="2"/></g>
<g fill="#00bfff"><rect x="174" y="532" width="3" height="2"/></g>
<g fill="#ffb6c1"><rect x="177" y="532" width="3" height="2"/></g>
<g fill="#ff0000"><rect x="180" y="532" width="4" height="2"/></g>
<g fill="#00bfff"><rect x="169" y="534" width="3" height="2"/></g>
<g fill="#ff0000"><rect x="172" y="534" width="2" height="2"/></g>
<g fill="#3c3cff"><rect x="174" y="534" width="3" height="2"/></g>
<g fill="#ffb6c1"><rect x="177" y="534" width="3" height="2"/></g>
<g fill="#ff0000"><rect x="169" y="536" width="3" height="1"/><rect x="172" y="536" width="2" height="1"/><rect x="174" y="536" width="3" height="1"/><rect x="177" y="536" width="3" height="1"/></g>
<g fill="#ffb6c1"><rect x="169" y="537" width="3" height="2"/></g>
<g fill="#ff0000"><rect x="172" y="537" width="2" height="2"/></g>
<g fill="#00bfff"><rect x="174" y="537" width="3" height="2"/></g>
<g fill="#ff0000"><rect x="177" y="537" width="3" height="2"/><rect x="169" y="539" width="3" height="2"/><rect x="172" y="539" width="2" height="2"/><rect x="174" y="539" width="3" height="2"/><rect x="169" y="541" width="3" height="2"/><rect x="172" y="541" width="2" height="2"/><rect x="174" y="541" width="3" height="2"/><rect x="196" y="489" width="3" height="2"/></g>
<g fill="#00bfff"><rect x="199" y="489" width="4" height="2"/></g>
<g fill="#ff0000"><rect x="208" y="489" width="4" height="2"/><rect x="212" y="489" width="5" height="2"/><rect x="196" y="491" width="3" height="2"/><rect x="208" y="491" width="4" height="2"/><rect x="212" y="491" width="5" height="2"/><rect x="196" y="493" width="3" height="2"/><rect x="203" y="493" width="5" height="2"/></g>
<g fill="#00bfff"><rect x="208" y="493" width="4" height="2"/><rect x="203" y="495" width="5" height="2"/><rect x="208" y="495" width="4" height="2"/><rect x="203" y="497" width="5" height="2"/><rect x="196" y="499" width="3" height="1"/></g>
<g fill="#ff0000"><rect x="199" y="499" width="4" height="1"/><rect x="203" y="499" width="5" height="1"/><rect x="196" y="500" width="3" height="2"/><rect x="199" y="500" width="4" height="2"/><rect x="196" y="502" width="3" height="2"/><rect x="199" y="502" width="4" height="2"/><rect x="196" y="504" width="3" height="2"/><rect x="199" y="504" width="4" height="2"/><rect x="196" y="506" width="3" height="2"/></g>
<g fill="#00bfff"><rect x="167" y="543" width="2" height="2"/></g>
<g fill="#ff0000"><rect x="169" y="543" width="3" height="2"/><rect x="172" y="543" width="2" height="2"/><rect x="174" y="543" width="3" height="2"/></g>
<g fill="#ba55d3"><rect x="177" y="543" width="3" height="2"/></g>
<g fill="#ff0000"><rect x="167" y="545" width="2" height="2"/><rect x="169" y="545" width="3" height="2"/><rect x="174" y="545" width="3" height="2"/><rect x="177" y="545" width="3" height="2"/><rect x="167" y="547" width="2" height="2"/><rect x="169" y="547" width="3" height="2"/><rect x="172" y="547" width="2" height="2"/></g>
<g fill="#00ffff"><rect x="167" y="549" width="2" height="1"/><rect x="169" y="549" width="3" height="1"/></g>
<g fill="#ff0000"><rect x="172" y="549" width="2" height="1"/></g>
<g fill="#3c3cff"><rect x="174" y="549" width="3" height="1"/></g>
<g fill="#00bfff"><rect x="164" y="550" width="3" height="2"/></g>
<g fill="#ffb6c1"><rect x="167" y="550" width="2" height="2"/><rect x="169" y="550" width="3" height="2"/></g>
<g fill="#ff0000"><rect x="172" y="550" width="2" height="2"/><rect x="174" y="550" width="3" height="2"/><rect x="164" y="552" width="3" height="2"/><rect x="167" y="552" width="2" height="2"/><rect x="169" y="552" width="3" height="2"/><rect x="172" y="552" width="2" height="2"/></g>
<g fill="#ffb6c1"><rect x="161" y="554" width="3" height="2"/></g>
<g fill="#00bfff"><rect x="164" y="554" width="3" height="2"/></g>
<g fill="#ff0000"><rect x="167" y="554" width="2" height="2"/></g>
<g fill="#ba55d3"><rect x="169" y="554" width="3" height="2"/></g>
<g fill="#ff0000"><rect x="172" y="554" width="2" height="2"/><rect x="161" y="556" width="3" height="2"/></g>
<g fill="#00ffff"><rect x="164" y="556" width="3" height="2"/></g>
<g fill="#ff0000"><rect x="167" y="556" width="2" height="2"/><rect x="169" y="556" width="3" height="2"/></g>
<g fill="#ba55d3"><rect x="172" y="556" width="2" height="2"/></g>
<g fill="#00bfff"><rect x="161" y="558" width="3" height="2"/><rect x="164" y="558" width="3" height="2"/></g>
<g fill="#ffd700"><rect x="167" y="558" width="2" height="2"/></g>
<g fill="#ff0000"><rect x="169" y="558" width="3" height="2"/></g>
<g fill="#ba55d3"><rect x="172" y="558" width="2" height="2"/></g>
<g fill="#00bfff"><rect x="161" y="560" width="3" height="2"/><rect x="164" y="560" width="3" height="2"/></g>
<g fill="#ff0000"><rect x="167" y="560" width="2" height="2"/></g>
<g fill="#3c3cff"><rect x="169" y="560" width="3" height="2"/></g>
<g fill="#ba55d3"><rect x="172" y="560" width="2" height="2"/></g>
<g fill="#ff0000"><rect x="161" y="562" width="3" height="1"/></g>
<g fill="#00bfff"><rect x="164" y="562" width="3" height="1"/></g>
<g fill="#ff0000"><rect x="167" y="562" width="2" height="1"/></g>
<g fill="#ba55d3"><rect x="169" y="562" width="3" height="1"/><rect x="172" y="562" width="2" height="1"/></g>
<g fill="#ff0000"><rect x="161" y="563" width="3" height="2"/><rect x="164" y="563" width="3" height="2"/><rect x="167" y="563" width="2" height="2"/></g>
<g fill="#ffb6c1"><rect x="169" y="563" width="3" height="2"/></g>
<g fill="#ff0000"><rect x="172" y="563" width="2" height="2"/></g>
<g fill="#00bfff"><rect x="161" y="565" width="3" height="2"/></g>
<g fill="#ff0000"><rect x="164" y="565" width="3" height="2"/><rect x="167" y="565" width="2" height="2"/></g>
<g fill="#ffb6c1"><rect x="169" y="565" width="3" height="2"/></g>
<g fill="#00bfff"><rect x="161" y="567" width="3" height="2"/></g>
<g fill="#ffb6c1"><rect x="164" y="567" width="3" height="2"/><rect x="167" y="567" width="2" height="2"/></g>
<g fill="#00ffff"><rect x="157" y="569" width="4" height="2"/></g>
<g fill="#ffb6c1"><rect x="161" y="569" width="3" height="2"/><rect x="164" y="569" width="3" height="2"/><rect x="167" y="569" width="2" height="2"/></g>
</g>
<g id="grid" stroke="#b0b0b0" stroke-width="1.11" fill="none">
<line x1="138.50" y1="100.5" x2="138.50" y2="793.5"/><line x1="230.50" y1="100.5" x2="230.50" y2="793.5"/><line x1="323.50" y1="100.5" x2="323.50" y2="793.5"/><line x1="415.50" y1="100.5" x2="415.50" y2="793.5"/><line x1="508.50" y1="100.5" x2="508.50" y2="793.5"/><line x1="600.50" y1="100.5" x2="600.50" y2="793.5"/><line x1="692.50" y1="100.5" x2="692.50" y2="793.5"/><line x1="785.50" y1="100.5" x2="785.50" y2="793.5"/><line x1="92.5" y1="793.50" x2="785.5" y2="793.50"/><line x1="92.5" y1="669.50" x2="785.5" y2="669.50"/><line x1="92.5" y1="545.50" x2="785.5" y2="545.50"/><line x1="92.5" y1="421.50" x2="785.5" y2="421.50"/><line x1="92.5" y1="298.50" x2="785.5" y2="298.50"/><line x1="92.5" y1="174.50" x2="785.5" y2="174.50"/>
</g>
<g id="ticks" stroke="#000" fill="none">
<line x1="92.50" y1="793.5" x2="92.50" y2="796.60" stroke-width="0.83"/><line x1="115.50" y1="793.5" x2="115.50" y2="796.60" stroke-width="0.83"/><line x1="138.50" y1="793.5" x2="138.50" y2="798.70" stroke-width="1.11"/><line x1="161.50" y1="793.5" x2="161.50" y2="796.60" stroke-width="0.83"/><line x1="184.50" y1="793.5" x2="184.50" y2="796.60" stroke-width="0.83"/><line x1="207.50" y1="793.5" x2="207.50" y2="796.60" stroke-width="0.83"/><line x1="230.50" y1="793.5" x2="230.50" y2="798.70" stroke-width="1.11"/><line x1="253.50" y1="793.5" x2="253.50" y2="796.60" stroke-width="0.83"/><line x1="277.50" y1="793.5" x2="277.50" y2="796.60" stroke-width="0.83"/><line x1="300.50" y1="793.5" x2="300.50" y2="796.60" stroke-width="0.83"/><line x1="323.50" y1="793.5" x2="323.50" y2="798.70" stroke-width="1.11"/><line x1="346.50" y1="793.5" x2="346.50" y2="796.60" stroke-width="0.83"/><line x1="369.50" y1="793.5" x2="369.50" y2="796.60" stroke-width="0.83"/><line x1="392.50" y1="793.5" x2="392.50" y2="796.60" stroke-width="0.83"/><line x1="415.50" y1="793.5" x2="415.50" y2="798.70" stroke-width="1.11"/><line x1="438.50" y1="793.5" x2="438.50" y2="796.60" stroke-width="0.83"/><line x1="461.50" y1="793.5" x2="461.50" y2="796.60" stroke-width="0.83"/><line x1="484.50" y1="793.5" x2="484.50" y2="796.60" stroke-width="0.83"/><line x1="508.50" y1="793.5" x2="508.50" y2="798.70" stroke-width="1.11"/><line x1="531.50" y1="793.5" x2="531.50" y2="796.60" stroke-width="0.83"/><line x1="554.50" y1="793.5" x2="554.50" y2="796.60" stroke-width="0.83"/><line x1="577.50" y1="793.5" x2="577.50" y2="796.60" stroke-width="0.83"/><line x1="600.50" y1="793.5" x2="600.50" y2="798.70" stroke-width="1.11"/><line x1="623.50" y1="793.5" x2="623.50" y2="796.60" stroke-width="0.83"/><line x1="646.50" y1="793.5" x2="646.50" y2="796.60" stroke-width="0.83"/><line x1="669.50" y1="793.5" x2="669.50" y2="796.60" stroke-width="0.83"/><line x1="692.50" y1="793.5" x2="692.50" y2="798.70" stroke-width="1.11"/><line x1="715.50" y1="793.5" x2="715.50" y2="796.60" stroke-width="0.83"/><line x1="739.50" y1="793.5" x2="739.50" y2="796.60" stroke-width="0.83"/><line x1="762.50" y1="793.5" x2="762.50" y2="796.60" stroke-width="0.83"/><line x1="785.50" y1="793.5" x2="785.50" y2="798.70" stroke-width="1.11"/><line x1="92.5" y1="793.50" x2="87.30" y2="793.50" stroke-width="1.11"/><line x1="92.5" y1="762.50" x2="89.40" y2="762.50" stroke-width="0.83"/><line x1="92.5" y1="731.50" x2="89.40" y2="731.50" stroke-width="0.83"/><line x1="92.5" y1="700.50" x2="89.40" y2="700.50" stroke-width="0.83"/><line x1="92.5" y1="669.50" x2="87.30" y2="669.50" stroke-width="1.11"/><line x1="92.5" y1="638.50" x2="89.40" y2="638.50" stroke-width="0.83"/><line x1="92.5" y1="607.50" x2="89.40" y2="607.50" stroke-width="0.83"/><line x1="92.5" y1="576.50" x2="89.40" y2="576.50" stroke-width="0.83"/><line x1="92.5" y1="545.50" x2="87.30" y2="545.50" stroke-width="1.11"/><line x1="92.5" y1="514.50" x2="89.40" y2="514.50" stroke-width="0.83"/><line x1="92.5" y1="483.50" x2="89.40" y2="483.50" stroke-width="0.83"/><line x1="92.5" y1="452.50" x2="89.40" y2="452.50" stroke-width="0.83"/><line x1="92.5" y1="421.50" x2="87.30" y2="421.50" stroke-width="1.11"/><line x1="92.5" y1="390.50" x2="89.40" y2="390.50" stroke-width="0.83"/><line x1="92.5" y1="359.50" x2="89.40" y2="359.50" stroke-width="0.83"/><line x1="92.5" y1="329.50" x2="89.40" y2="329.50" stroke-width="0.83"/><line x1="92.5" y1="298.50" x2="87.30" y2="298.50" stroke-width="1.11"/><line x1="92.5" y1="267.50" x2="89.40" y2="267.50" stroke-width="0.83"/><line x1="92.5" y1="236.50" x2="89.40" y2="236.50" stroke-width="0.83"/><line x1="92.5" y1="205.50" x2="89.40" y2="205.50" stroke-width="0.83"/><line x1="92.5" y1="174.50" x2="87.30" y2="174.50" stroke-width="1.11"/><line x1="92.5" y1="143.50" x2="89.40" y2="143.50" stroke-width="0.83"/><line x1="92.5" y1="112.50" x2="89.40" y2="112.50" stroke-width="0.83"/>
</g>
<rect x="92.5" y="100.5" width="693.0" height="693.0" fill="none" stroke="#000" stroke-width="1.11"/>
<g id="cbar">
<rect x="816.5" y="82.50" width="30.0" height="91.00" fill="#00bfff"/><rect x="816.5" y="172.00" width="30.0" height="91.00" fill="#00ffff"/><rect x="816.5" y="262.00" width="30.0" height="91.00" fill="#ffd700"/><rect x="816.5" y="352.00" width="30.0" height="91.00" fill="#ffb6c1"/><rect x="816.5" y="442.00" width="30.0" height="91.00" fill="#ba55d3"/><rect x="816.5" y="532.00" width="30.0" height="91.00" fill="#3c3cff"/><rect x="816.5" y="622.00" width="30.0" height="91.00" fill="#ff0000"/><rect x="816.5" y="712.00" width="30.0" height="90.50" fill="#008000"/>
<rect x="816.5" y="82.5" width="30.0" height="720.0" fill="none" stroke="#000" stroke-width="1.11"/>
<line x1="846.5" y1="82.50" x2="849.60" y2="82.50" stroke="#000" stroke-width="0.83"/><line x1="846.5" y1="172.50" x2="849.60" y2="172.50" stroke="#000" stroke-width="0.83"/><line x1="846.5" y1="262.50" x2="849.60" y2="262.50" stroke="#000" stroke-width="0.83"/><line x1="846.5" y1="352.50" x2="849.60" y2="352.50" stroke="#000" stroke-width="0.83"/><line x1="846.5" y1="442.50" x2="849.60" y2="442.50" stroke="#000" stroke-width="0.83"/><line x1="846.5" y1="532.50" x2="849.60" y2="532.50" stroke="#000" stroke-width="0.83"/><line x1="846.5" y1="622.50" x2="849.60" y2="622.50" stroke="#000" stroke-width="0.83"/><line x1="846.5" y1="712.50" x2="849.60" y2="712.50" stroke="#000" stroke-width="0.83"/><line x1="846.5" y1="802.50" x2="849.60" y2="802.50" stroke="#000" stroke-width="0.83"/><line x1="846.5" y1="127.50" x2="851.70" y2="127.50" stroke="#000" stroke-width="1.11"/><line x1="846.5" y1="217.50" x2="851.70" y2="217.50" stroke="#000" stroke-width="1.11"/><line x1="846.5" y1="307.50" x2="851.70" y2="307.50" stroke="#000" stroke-width="1.11"/><line x1="846.5" y1="397.50" x2="851.70" y2="397.50" stroke="#000" stroke-width="1.11"/><line x1="846.5" y1="487.50" x2="851.70" y2="487.50" stroke="#000" stroke-width="1.11"/><line x1="846.5" y1="577.50" x2="851.70" y2="577.50" stroke="#000" stroke-width="1.11"/><line x1="846.5" y1="667.50" x2="851.70" y2="667.50" stroke="#000" stroke-width="1.11"/><line x1="846.5" y1="757.50" x2="851.70" y2="757.50" stroke="#000" stroke-width="1.11"/>
</g>
<g id="labels" opacity="0.999">
<text x="149.06" y="32.00" font-size="30.52" textLength="57.91" lengthAdjust="spacingAndGlyphs" transform="rotate(0.03 178.01 32.00)">NAL</text>
<text x="215.44" y="32.00" font-size="30.52" textLength="70.48" lengthAdjust="spacingAndGlyphs" transform="rotate(0.03 250.68 32.00)">CADI</text>
<text x="295.25" y="32.00" font-size="30.52" textLength="10.37" lengthAdjust="spacingAndGlyphs" transform="rotate(0.03 300.44 32.00)">-</text>
<text x="315.37" y="32.00" font-size="30.52" textLength="53.61" lengthAdjust="spacingAndGlyphs" transform="rotate(0.03 342.17 32.00)">Sep</text>
<text x="378.98" y="32.00" font-size="30.52" textLength="35.87" lengthAdjust="spacingAndGlyphs" transform="rotate(0.03 396.92 32.00)">26</text>
<text x="425.05" y="32.00" font-size="30.52" textLength="128.55" lengthAdjust="spacingAndGlyphs" transform="rotate(0.03 489.32 32.00)">06:15:00</text>
<text x="563.89" y="32.00" font-size="30.52" textLength="72.16" lengthAdjust="spacingAndGlyphs" transform="rotate(0.03 599.97 32.00)">2023</text>
<text x="646.52" y="32.00" font-size="30.52" textLength="56.43" lengthAdjust="spacingAndGlyphs" transform="rotate(0.03 674.73 32.00)">UTC</text>
<text x="336.65" y="841.60" font-size="25.43" textLength="123.94" lengthAdjust="spacingAndGlyphs">Frequency</text>
<text x="469.43" y="841.60" font-size="25.43" textLength="69.56" lengthAdjust="spacingAndGlyphs">(MHz)</text>
<text x="28.30" y="560.12" font-size="25.43" textLength="77.89" lengthAdjust="spacingAndGlyphs" transform="rotate(-90 28.30 560.12)">Virtual</text>
<text x="28.30" y="473.95" font-size="25.43" textLength="75.79" lengthAdjust="spacingAndGlyphs" transform="rotate(-90 28.30 473.95)">height</text>
<text x="28.30" y="389.83" font-size="25.43" textLength="55.24" lengthAdjust="spacingAndGlyphs" transform="rotate(-90 28.30 389.83)">(km)</text>
<text x="943.60" y="548.15" font-size="25.43" textLength="97.78" lengthAdjust="spacingAndGlyphs" transform="rotate(-90 943.60 548.15)">Azimuth</text>
<text x="943.60" y="442.43" font-size="25.43" textLength="107.29" lengthAdjust="spacingAndGlyphs" transform="rotate(-90 943.60 442.43)">Direction</text>
<text x="133.35" y="815.10" font-size="17.40" textLength="9.40" lengthAdjust="spacingAndGlyphs">2</text>
<text x="226.53" y="815.10" font-size="17.40" textLength="9.74" lengthAdjust="spacingAndGlyphs">4</text>
<text x="318.19" y="815.10" font-size="17.40" textLength="10.09" lengthAdjust="spacingAndGlyphs">6</text>
<text x="410.32" y="815.10" font-size="17.40" textLength="9.85" lengthAdjust="spacingAndGlyphs">8</text>
<text x="498.20" y="815.10" font-size="17.40" textLength="20.32" lengthAdjust="spacingAndGlyphs">10</text>
<text x="590.35" y="815.10" font-size="17.40" textLength="19.94" lengthAdjust="spacingAndGlyphs">12</text>
<text x="682.81" y="815.10" font-size="17.40" textLength="20.32" lengthAdjust="spacingAndGlyphs">14</text>
<text x="774.76" y="815.10" font-size="17.40" textLength="20.49" lengthAdjust="spacingAndGlyphs">16</text>
<text x="71.24" y="799.20" font-size="17.40" textLength="9.74" lengthAdjust="spacingAndGlyphs">0</text>
<text x="49.96" y="675.20" font-size="17.40" textLength="31.07" lengthAdjust="spacingAndGlyphs">200</text>
<text x="50.06" y="551.20" font-size="17.40" textLength="30.96" lengthAdjust="spacingAndGlyphs">400</text>
<text x="49.88" y="427.20" font-size="17.40" textLength="31.14" lengthAdjust="spacingAndGlyphs">600</text>
<text x="49.99" y="304.20" font-size="17.40" textLength="31.03" lengthAdjust="spacingAndGlyphs">800</text>
<text x="39.51" y="180.20" font-size="17.40" textLength="41.52" lengthAdjust="spacingAndGlyphs">1000</text>
<text x="855.88" y="133.10" font-size="17.40" textLength="34.74" lengthAdjust="spacingAndGlyphs">NNE</text>
<text x="856.04" y="223.10" font-size="17.40" textLength="9.61" lengthAdjust="spacingAndGlyphs">E</text>
<text x="855.99" y="313.10" font-size="17.40" textLength="30.81" lengthAdjust="spacingAndGlyphs">SSE</text>
<text x="855.96" y="403.10" font-size="17.40" textLength="36.69" lengthAdjust="spacingAndGlyphs">SSW</text>
<text x="856.07" y="493.10" font-size="17.40" textLength="15.47" lengthAdjust="spacingAndGlyphs">W</text>
<text x="855.83" y="583.10" font-size="17.40" textLength="40.59" lengthAdjust="spacingAndGlyphs">NNW</text>
<text x="855.64" y="673.10" font-size="17.40" textLength="61.91" lengthAdjust="spacingAndGlyphs">Vertical</text>
<text x="855.69" y="763.10" font-size="17.40" textLength="63.49" lengthAdjust="spacingAndGlyphs">X-mode</text>
</g>
</svg>
</body></html>
